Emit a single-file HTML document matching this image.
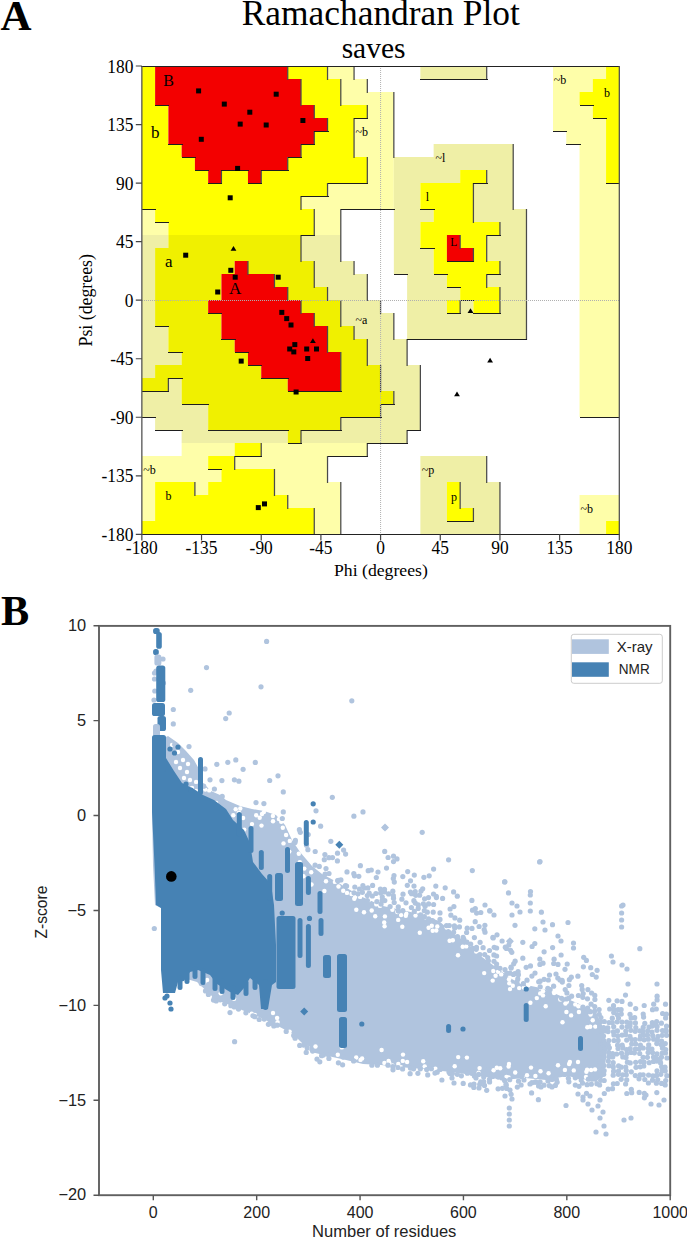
<!DOCTYPE html>
<html><head><meta charset="utf-8"><style>
html,body{margin:0;padding:0;background:#fff;}
svg{display:block;}
.serif{font-family:"Liberation Serif",serif;}
.sans{font-family:"Liberation Sans",sans-serif;}
</style></head><body>
<svg width="687" height="1240" viewBox="0 0 687 1240">
<rect width="687" height="1240" fill="#fff"/>
<rect x="141.85" y="66" width="13.26" height="13" fill="#ffff00"/>
<rect x="155.11" y="66" width="132.63" height="13" fill="#f30000"/>
<rect x="287.74" y="66" width="39.79" height="13" fill="#ffff00"/>
<rect x="327.53" y="66" width="26.53" height="13" fill="#fefea9"/>
<rect x="420.37" y="66" width="66.31" height="13" fill="#efefa6"/>
<rect x="553.00" y="66" width="53.05" height="13" fill="#fefea9"/>
<rect x="606.05" y="66" width="13.26" height="13" fill="#ffff00"/>
<rect x="141.85" y="79" width="13.26" height="13" fill="#ffff00"/>
<rect x="155.11" y="79" width="145.89" height="13" fill="#f30000"/>
<rect x="301.01" y="79" width="39.79" height="13" fill="#ffff00"/>
<rect x="340.79" y="79" width="26.53" height="13" fill="#fefea9"/>
<rect x="553.00" y="79" width="39.79" height="13" fill="#fefea9"/>
<rect x="592.79" y="79" width="26.53" height="13" fill="#ffff00"/>
<rect x="141.85" y="92" width="13.26" height="13" fill="#ffff00"/>
<rect x="155.11" y="92" width="145.89" height="13" fill="#f30000"/>
<rect x="301.01" y="92" width="39.79" height="13" fill="#ffff00"/>
<rect x="340.79" y="92" width="53.05" height="13" fill="#fefea9"/>
<rect x="553.00" y="92" width="26.53" height="13" fill="#fefea9"/>
<rect x="579.53" y="92" width="39.79" height="13" fill="#ffff00"/>
<rect x="141.85" y="105" width="26.53" height="13" fill="#ffff00"/>
<rect x="168.38" y="105" width="145.89" height="13" fill="#f30000"/>
<rect x="314.27" y="105" width="53.05" height="13" fill="#ffff00"/>
<rect x="367.32" y="105" width="26.53" height="13" fill="#fefea9"/>
<rect x="553.00" y="105" width="39.79" height="13" fill="#fefea9"/>
<rect x="592.79" y="105" width="26.53" height="13" fill="#ffff00"/>
<rect x="141.85" y="118" width="26.53" height="13" fill="#ffff00"/>
<rect x="168.38" y="118" width="159.16" height="13" fill="#f30000"/>
<rect x="327.53" y="118" width="26.53" height="13" fill="#ffff00"/>
<rect x="354.06" y="118" width="39.79" height="13" fill="#fefea9"/>
<rect x="553.00" y="118" width="53.05" height="13" fill="#fefea9"/>
<rect x="606.05" y="118" width="13.26" height="13" fill="#ffff00"/>
<rect x="141.85" y="131" width="26.53" height="13" fill="#ffff00"/>
<rect x="168.38" y="131" width="145.89" height="13" fill="#f30000"/>
<rect x="314.27" y="131" width="39.79" height="13" fill="#ffff00"/>
<rect x="354.06" y="131" width="39.79" height="13" fill="#fefea9"/>
<rect x="566.27" y="131" width="39.79" height="13" fill="#fefea9"/>
<rect x="606.05" y="131" width="13.26" height="13" fill="#ffff00"/>
<rect x="141.85" y="144" width="39.79" height="13" fill="#ffff00"/>
<rect x="181.64" y="144" width="119.37" height="13" fill="#f30000"/>
<rect x="301.01" y="144" width="53.05" height="13" fill="#ffff00"/>
<rect x="354.06" y="144" width="39.79" height="13" fill="#fefea9"/>
<rect x="433.64" y="144" width="79.58" height="13" fill="#efefa6"/>
<rect x="579.53" y="144" width="26.53" height="13" fill="#fefea9"/>
<rect x="606.05" y="144" width="13.26" height="13" fill="#ffff00"/>
<rect x="141.85" y="157" width="53.05" height="13" fill="#ffff00"/>
<rect x="194.90" y="157" width="92.84" height="13" fill="#f30000"/>
<rect x="287.74" y="157" width="79.58" height="13" fill="#ffff00"/>
<rect x="367.32" y="157" width="26.53" height="13" fill="#fefea9"/>
<rect x="393.85" y="157" width="119.37" height="13" fill="#efefa6"/>
<rect x="579.53" y="157" width="26.53" height="13" fill="#fefea9"/>
<rect x="606.05" y="157" width="13.26" height="13" fill="#ffff00"/>
<rect x="141.85" y="170" width="66.31" height="13" fill="#ffff00"/>
<rect x="208.16" y="170" width="13.26" height="13" fill="#f30000"/>
<rect x="221.43" y="170" width="26.53" height="13" fill="#ffff00"/>
<rect x="247.95" y="170" width="13.26" height="13" fill="#f30000"/>
<rect x="261.22" y="170" width="106.10" height="13" fill="#ffff00"/>
<rect x="367.32" y="170" width="26.53" height="13" fill="#fefea9"/>
<rect x="393.85" y="170" width="66.32" height="13" fill="#efefa6"/>
<rect x="460.16" y="170" width="26.53" height="13" fill="#ffff00"/>
<rect x="486.69" y="170" width="26.53" height="13" fill="#efefa6"/>
<rect x="579.53" y="170" width="26.53" height="13" fill="#fefea9"/>
<rect x="606.05" y="170" width="13.26" height="13" fill="#ffff00"/>
<rect x="141.85" y="183" width="185.68" height="13" fill="#ffff00"/>
<rect x="327.53" y="183" width="66.31" height="13" fill="#fefea9"/>
<rect x="393.85" y="183" width="26.53" height="13" fill="#efefa6"/>
<rect x="420.37" y="183" width="53.05" height="13" fill="#ffff00"/>
<rect x="473.42" y="183" width="39.79" height="13" fill="#efefa6"/>
<rect x="579.53" y="183" width="39.79" height="13" fill="#fefea9"/>
<rect x="141.85" y="196" width="159.16" height="13" fill="#ffff00"/>
<rect x="301.01" y="196" width="92.84" height="13" fill="#fefea9"/>
<rect x="393.85" y="196" width="26.53" height="13" fill="#efefa6"/>
<rect x="420.37" y="196" width="53.05" height="13" fill="#ffff00"/>
<rect x="473.42" y="196" width="39.79" height="13" fill="#efefa6"/>
<rect x="579.53" y="196" width="39.79" height="13" fill="#fefea9"/>
<rect x="141.85" y="209" width="13.26" height="13" fill="#fefea9"/>
<rect x="155.11" y="209" width="159.16" height="13" fill="#ffff00"/>
<rect x="314.27" y="209" width="26.53" height="13" fill="#fefea9"/>
<rect x="393.85" y="209" width="39.79" height="13" fill="#efefa6"/>
<rect x="433.64" y="209" width="39.79" height="13" fill="#ffff00"/>
<rect x="473.42" y="209" width="53.05" height="13" fill="#efefa6"/>
<rect x="579.53" y="209" width="39.79" height="13" fill="#fefea9"/>
<rect x="141.85" y="222" width="26.53" height="13" fill="#fefea9"/>
<rect x="168.38" y="222" width="145.89" height="13" fill="#ffff00"/>
<rect x="314.27" y="222" width="26.53" height="13" fill="#fefea9"/>
<rect x="393.85" y="222" width="26.53" height="13" fill="#efefa6"/>
<rect x="420.37" y="222" width="79.58" height="13" fill="#ffff00"/>
<rect x="499.95" y="222" width="26.53" height="13" fill="#efefa6"/>
<rect x="579.53" y="222" width="39.79" height="13" fill="#fefea9"/>
<rect x="141.85" y="235" width="26.53" height="13" fill="#efefa6"/>
<rect x="168.38" y="235" width="132.63" height="13" fill="#f0f000"/>
<rect x="301.01" y="235" width="39.79" height="13" fill="#efefa6"/>
<rect x="393.85" y="235" width="26.53" height="13" fill="#efefa6"/>
<rect x="420.37" y="235" width="26.53" height="13" fill="#ffff00"/>
<rect x="446.90" y="235" width="13.26" height="13" fill="#f30000"/>
<rect x="460.16" y="235" width="26.53" height="13" fill="#ffff00"/>
<rect x="486.69" y="235" width="39.79" height="13" fill="#efefa6"/>
<rect x="579.53" y="235" width="39.79" height="13" fill="#fefea9"/>
<rect x="141.85" y="248" width="13.26" height="13" fill="#efefa6"/>
<rect x="155.11" y="248" width="145.89" height="13" fill="#f0f000"/>
<rect x="301.01" y="248" width="39.79" height="13" fill="#efefa6"/>
<rect x="393.85" y="248" width="39.79" height="13" fill="#efefa6"/>
<rect x="433.64" y="248" width="13.26" height="13" fill="#ffff00"/>
<rect x="446.90" y="248" width="26.53" height="13" fill="#f30000"/>
<rect x="473.42" y="248" width="13.26" height="13" fill="#ffff00"/>
<rect x="486.69" y="248" width="39.79" height="13" fill="#efefa6"/>
<rect x="579.53" y="248" width="39.79" height="13" fill="#fefea9"/>
<rect x="141.85" y="261" width="13.26" height="13" fill="#efefa6"/>
<rect x="155.11" y="261" width="79.58" height="13" fill="#f0f000"/>
<rect x="234.69" y="261" width="13.26" height="13" fill="#f30000"/>
<rect x="247.95" y="261" width="66.31" height="13" fill="#f0f000"/>
<rect x="314.27" y="261" width="39.79" height="13" fill="#efefa6"/>
<rect x="393.85" y="261" width="39.79" height="13" fill="#efefa6"/>
<rect x="433.64" y="261" width="66.32" height="13" fill="#ffff00"/>
<rect x="499.95" y="261" width="26.53" height="13" fill="#efefa6"/>
<rect x="579.53" y="261" width="39.79" height="13" fill="#fefea9"/>
<rect x="141.85" y="274" width="13.26" height="13" fill="#efefa6"/>
<rect x="155.11" y="274" width="66.31" height="13" fill="#f0f000"/>
<rect x="221.43" y="274" width="53.05" height="13" fill="#f30000"/>
<rect x="274.48" y="274" width="39.79" height="13" fill="#f0f000"/>
<rect x="314.27" y="274" width="53.05" height="13" fill="#efefa6"/>
<rect x="407.11" y="274" width="39.79" height="13" fill="#efefa6"/>
<rect x="446.90" y="274" width="39.79" height="13" fill="#ffff00"/>
<rect x="486.69" y="274" width="39.79" height="13" fill="#efefa6"/>
<rect x="579.53" y="274" width="39.79" height="13" fill="#fefea9"/>
<rect x="141.85" y="287" width="13.26" height="13" fill="#efefa6"/>
<rect x="155.11" y="287" width="66.31" height="13" fill="#f0f000"/>
<rect x="221.43" y="287" width="66.31" height="13" fill="#f30000"/>
<rect x="287.74" y="287" width="39.79" height="13" fill="#f0f000"/>
<rect x="327.53" y="287" width="39.79" height="13" fill="#efefa6"/>
<rect x="407.11" y="287" width="53.05" height="13" fill="#efefa6"/>
<rect x="460.16" y="287" width="39.79" height="13" fill="#ffff00"/>
<rect x="499.95" y="287" width="26.53" height="13" fill="#efefa6"/>
<rect x="579.53" y="287" width="39.79" height="13" fill="#fefea9"/>
<rect x="141.85" y="300" width="13.26" height="13" fill="#efefa6"/>
<rect x="155.11" y="300" width="53.05" height="13" fill="#f0f000"/>
<rect x="208.16" y="300" width="92.84" height="13" fill="#f30000"/>
<rect x="301.01" y="300" width="39.79" height="13" fill="#f0f000"/>
<rect x="340.79" y="300" width="39.79" height="13" fill="#efefa6"/>
<rect x="407.11" y="300" width="39.79" height="13" fill="#efefa6"/>
<rect x="446.90" y="300" width="13.26" height="13" fill="#ffff00"/>
<rect x="460.16" y="300" width="13.26" height="13" fill="#efefa6"/>
<rect x="473.42" y="300" width="26.53" height="13" fill="#ffff00"/>
<rect x="499.95" y="300" width="26.53" height="13" fill="#efefa6"/>
<rect x="579.53" y="300" width="39.79" height="13" fill="#fefea9"/>
<rect x="141.85" y="313" width="13.26" height="13" fill="#efefa6"/>
<rect x="155.11" y="313" width="66.31" height="13" fill="#f0f000"/>
<rect x="221.43" y="313" width="92.84" height="13" fill="#f30000"/>
<rect x="314.27" y="313" width="26.53" height="13" fill="#f0f000"/>
<rect x="340.79" y="313" width="53.05" height="13" fill="#efefa6"/>
<rect x="407.11" y="313" width="119.37" height="13" fill="#efefa6"/>
<rect x="579.53" y="313" width="39.79" height="13" fill="#fefea9"/>
<rect x="141.85" y="326" width="26.53" height="13" fill="#efefa6"/>
<rect x="168.38" y="326" width="53.05" height="13" fill="#f0f000"/>
<rect x="221.43" y="326" width="106.10" height="13" fill="#f30000"/>
<rect x="327.53" y="326" width="26.53" height="13" fill="#f0f000"/>
<rect x="354.06" y="326" width="39.79" height="13" fill="#efefa6"/>
<rect x="407.11" y="326" width="119.37" height="13" fill="#efefa6"/>
<rect x="579.53" y="326" width="39.79" height="13" fill="#fefea9"/>
<rect x="141.85" y="339" width="26.53" height="13" fill="#efefa6"/>
<rect x="168.38" y="339" width="66.31" height="13" fill="#f0f000"/>
<rect x="234.69" y="339" width="92.84" height="13" fill="#f30000"/>
<rect x="327.53" y="339" width="39.79" height="13" fill="#f0f000"/>
<rect x="367.32" y="339" width="39.79" height="13" fill="#efefa6"/>
<rect x="579.53" y="339" width="39.79" height="13" fill="#fefea9"/>
<rect x="141.85" y="352" width="39.79" height="13" fill="#efefa6"/>
<rect x="181.64" y="352" width="66.31" height="13" fill="#f0f000"/>
<rect x="247.95" y="352" width="92.84" height="13" fill="#f30000"/>
<rect x="340.79" y="352" width="26.53" height="13" fill="#f0f000"/>
<rect x="367.32" y="352" width="39.79" height="13" fill="#efefa6"/>
<rect x="579.53" y="352" width="39.79" height="13" fill="#fefea9"/>
<rect x="141.85" y="365" width="13.26" height="13" fill="#efefa6"/>
<rect x="155.11" y="365" width="106.10" height="13" fill="#f0f000"/>
<rect x="261.22" y="365" width="79.58" height="13" fill="#f30000"/>
<rect x="340.79" y="365" width="39.79" height="13" fill="#f0f000"/>
<rect x="380.58" y="365" width="39.79" height="13" fill="#efefa6"/>
<rect x="579.53" y="365" width="39.79" height="13" fill="#fefea9"/>
<rect x="141.85" y="378" width="26.53" height="13" fill="#f0f000"/>
<rect x="168.38" y="378" width="13.26" height="13" fill="#efefa6"/>
<rect x="181.64" y="378" width="106.10" height="13" fill="#f0f000"/>
<rect x="287.74" y="378" width="53.05" height="13" fill="#f30000"/>
<rect x="340.79" y="378" width="39.79" height="13" fill="#f0f000"/>
<rect x="380.58" y="378" width="39.79" height="13" fill="#efefa6"/>
<rect x="579.53" y="378" width="39.79" height="13" fill="#fefea9"/>
<rect x="141.85" y="391" width="39.79" height="13" fill="#efefa6"/>
<rect x="181.64" y="391" width="212.21" height="13" fill="#f0f000"/>
<rect x="393.85" y="391" width="26.53" height="13" fill="#efefa6"/>
<rect x="579.53" y="391" width="39.79" height="13" fill="#fefea9"/>
<rect x="141.85" y="404" width="66.31" height="13" fill="#efefa6"/>
<rect x="208.16" y="404" width="172.42" height="13" fill="#f0f000"/>
<rect x="380.58" y="404" width="39.79" height="13" fill="#efefa6"/>
<rect x="579.53" y="404" width="39.79" height="13" fill="#fefea9"/>
<rect x="155.11" y="417" width="53.05" height="13" fill="#efefa6"/>
<rect x="208.16" y="417" width="132.63" height="13" fill="#f0f000"/>
<rect x="340.79" y="417" width="79.58" height="13" fill="#efefa6"/>
<rect x="181.64" y="430" width="106.10" height="13" fill="#efefa6"/>
<rect x="287.74" y="430" width="13.26" height="13" fill="#f0f000"/>
<rect x="301.01" y="430" width="106.10" height="13" fill="#efefa6"/>
<rect x="181.64" y="443" width="53.05" height="13" fill="#fefea9"/>
<rect x="234.69" y="443" width="26.53" height="13" fill="#ffff00"/>
<rect x="261.22" y="443" width="106.10" height="13" fill="#fefea9"/>
<rect x="141.85" y="456" width="66.31" height="13" fill="#fefea9"/>
<rect x="208.16" y="456" width="26.53" height="13" fill="#ffff00"/>
<rect x="234.69" y="456" width="92.84" height="13" fill="#fefea9"/>
<rect x="420.37" y="456" width="66.31" height="13" fill="#efefa6"/>
<rect x="141.85" y="469" width="79.58" height="13" fill="#fefea9"/>
<rect x="221.43" y="469" width="53.05" height="13" fill="#ffff00"/>
<rect x="274.48" y="469" width="53.05" height="13" fill="#fefea9"/>
<rect x="420.37" y="469" width="66.31" height="13" fill="#efefa6"/>
<rect x="141.85" y="482" width="13.26" height="13" fill="#fefea9"/>
<rect x="155.11" y="482" width="39.79" height="13" fill="#ffff00"/>
<rect x="194.90" y="482" width="13.26" height="13" fill="#fefea9"/>
<rect x="208.16" y="482" width="66.32" height="13" fill="#ffff00"/>
<rect x="274.48" y="482" width="66.31" height="13" fill="#fefea9"/>
<rect x="420.37" y="482" width="26.53" height="13" fill="#efefa6"/>
<rect x="446.90" y="482" width="13.26" height="13" fill="#ffff00"/>
<rect x="460.16" y="482" width="39.79" height="13" fill="#efefa6"/>
<rect x="141.85" y="495" width="13.26" height="13" fill="#fefea9"/>
<rect x="155.11" y="495" width="132.63" height="13" fill="#ffff00"/>
<rect x="287.74" y="495" width="53.05" height="13" fill="#fefea9"/>
<rect x="420.37" y="495" width="26.53" height="13" fill="#efefa6"/>
<rect x="446.90" y="495" width="13.26" height="13" fill="#ffff00"/>
<rect x="460.16" y="495" width="39.79" height="13" fill="#efefa6"/>
<rect x="579.53" y="495" width="39.79" height="13" fill="#fefea9"/>
<rect x="141.85" y="508" width="13.26" height="13" fill="#fefea9"/>
<rect x="155.11" y="508" width="159.16" height="13" fill="#ffff00"/>
<rect x="314.27" y="508" width="26.53" height="13" fill="#fefea9"/>
<rect x="420.37" y="508" width="26.53" height="13" fill="#efefa6"/>
<rect x="446.90" y="508" width="26.53" height="13" fill="#ffff00"/>
<rect x="473.42" y="508" width="26.53" height="13" fill="#efefa6"/>
<rect x="579.53" y="508" width="39.79" height="13" fill="#fefea9"/>
<rect x="141.85" y="521" width="172.42" height="13" fill="#ffff00"/>
<rect x="314.27" y="521" width="26.53" height="13" fill="#fefea9"/>
<rect x="420.37" y="521" width="79.58" height="13" fill="#efefa6"/>
<rect x="579.53" y="521" width="26.53" height="13" fill="#fefea9"/>
<rect x="606.05" y="521" width="13.26" height="13" fill="#ffff00"/>
<path d="M287.74 66.0V80.0M327.53 66.0V80.0M354.06 66.0V80.0M486.69 66.0V80.0M301.01 79.0V93.0M340.79 79.0V93.0M367.32 79.0V93.0M301.01 92.0V106.0M340.79 92.0V106.0M393.85 92.0V106.0M314.27 105.0V119.0M367.32 105.0V119.0M393.85 105.0V119.0M327.53 118.0V132.0M354.06 118.0V132.0M393.85 118.0V132.0M314.27 131.0V145.0M354.06 131.0V145.0M393.85 131.0V145.0M301.01 144.0V158.0M354.06 144.0V158.0M393.85 144.0V158.0M513.21 144.0V158.0M287.74 157.0V171.0M367.32 157.0V171.0M513.21 157.0V171.0M221.43 170.0V184.0M261.22 170.0V184.0M367.32 170.0V184.0M486.69 170.0V184.0M513.21 170.0V184.0M327.53 183.0V197.0M473.42 183.0V197.0M513.21 183.0V197.0M301.01 196.0V210.0M473.42 196.0V210.0M513.21 196.0V210.0M314.27 209.0V223.0M340.79 209.0V223.0M473.42 209.0V223.0M526.48 209.0V223.0M314.27 222.0V236.0M340.79 222.0V236.0M499.95 222.0V236.0M526.48 222.0V236.0M301.01 235.0V249.0M340.79 235.0V249.0M460.16 235.0V249.0M486.69 235.0V249.0M526.48 235.0V249.0M301.01 248.0V262.0M340.79 248.0V262.0M473.42 248.0V262.0M486.69 248.0V262.0M526.48 248.0V262.0M247.95 261.0V275.0M314.27 261.0V275.0M354.06 261.0V275.0M499.95 261.0V275.0M526.48 261.0V275.0M274.48 274.0V288.0M314.27 274.0V288.0M367.32 274.0V288.0M486.69 274.0V288.0M526.48 274.0V288.0M287.74 287.0V301.0M327.53 287.0V301.0M367.32 287.0V301.0M499.95 287.0V301.0M526.48 287.0V301.0M301.01 300.0V314.0M340.79 300.0V314.0M380.58 300.0V314.0M460.16 300.0V314.0M499.95 300.0V314.0M526.48 300.0V314.0M314.27 313.0V327.0M340.79 313.0V327.0M393.85 313.0V327.0M526.48 313.0V327.0M327.53 326.0V340.0M354.06 326.0V340.0M393.85 326.0V340.0M526.48 326.0V340.0M327.53 339.0V353.0M367.32 339.0V353.0M407.11 339.0V353.0M340.79 352.0V366.0M367.32 352.0V366.0M407.11 352.0V366.0M340.79 365.0V379.0M380.58 365.0V379.0M420.37 365.0V379.0M168.38 378.0V392.0M340.79 378.0V392.0M380.58 378.0V392.0M420.37 378.0V392.0M393.85 391.0V405.0M420.37 391.0V405.0M380.58 404.0V418.0M420.37 404.0V418.0M340.79 417.0V431.0M420.37 417.0V431.0M301.01 430.0V444.0M407.11 430.0V444.0M261.22 443.0V457.0M367.32 443.0V457.0M234.69 456.0V470.0M327.53 456.0V470.0M486.69 456.0V470.0M274.48 469.0V483.0M327.53 469.0V483.0M486.69 469.0V483.0M194.90 482.0V496.0M274.48 482.0V496.0M340.79 482.0V496.0M460.16 482.0V496.0M499.95 482.0V496.0M287.74 495.0V509.0M340.79 495.0V509.0M460.16 495.0V509.0M499.95 495.0V509.0M314.27 508.0V522.0M340.79 508.0V522.0M473.42 508.0V522.0M499.95 508.0V522.0M314.27 521.0V535.0M340.79 521.0V535.0M499.95 521.0V535.0" stroke="#4a4a4a" stroke-width="1.25" fill="none"/>
<path d="M419.5 79.5H434.5M433.5 79.5H447.5M446.5 79.5H460.5M459.5 79.5H473.5M472.5 79.5H487.5M154.5 105.5H168.5M579.5 105.5H593.5M353.5 118.5H367.5M592.5 118.5H606.5M313.5 131.5H328.5M552.5 131.5H566.5M167.5 144.5H182.5M300.5 144.5H314.5M565.5 144.5H580.5M181.5 157.5H195.5M287.5 157.5H301.5M194.5 170.5H208.5M220.5 170.5H235.5M234.5 170.5H248.5M260.5 170.5H274.5M273.5 170.5H288.5M207.5 183.5H221.5M247.5 183.5H261.5M327.5 183.5H341.5M340.5 183.5H354.5M353.5 183.5H367.5M472.5 183.5H487.5M605.5 183.5H619.5M300.5 196.5H314.5M313.5 196.5H328.5M141.5 209.5H155.5M340.5 209.5H354.5M353.5 209.5H367.5M366.5 209.5H381.5M380.5 209.5H394.5M419.5 209.5H434.5M154.5 222.5H168.5M300.5 235.5H314.5M486.5 235.5H500.5M419.5 248.5H434.5M446.5 261.5H460.5M459.5 261.5H473.5M393.5 274.5H407.5M433.5 274.5H447.5M486.5 274.5H500.5M446.5 287.5H460.5M459.5 300.5H473.5M207.5 313.5H221.5M446.5 313.5H460.5M472.5 313.5H487.5M486.5 313.5H500.5M154.5 326.5H168.5M220.5 339.5H235.5M406.5 339.5H420.5M419.5 339.5H434.5M433.5 339.5H447.5M446.5 339.5H460.5M459.5 339.5H473.5M472.5 339.5H487.5M486.5 339.5H500.5M499.5 339.5H513.5M512.5 339.5H526.5M167.5 352.5H182.5M234.5 352.5H248.5M247.5 365.5H261.5M167.5 378.5H182.5M260.5 378.5H274.5M273.5 378.5H288.5M141.5 391.5H155.5M154.5 391.5H168.5M287.5 391.5H301.5M300.5 391.5H314.5M313.5 391.5H328.5M327.5 391.5H341.5M181.5 404.5H195.5M194.5 404.5H208.5M380.5 404.5H394.5M141.5 417.5H155.5M340.5 417.5H354.5M353.5 417.5H367.5M366.5 417.5H381.5M579.5 417.5H593.5M592.5 417.5H606.5M605.5 417.5H619.5M154.5 430.5H168.5M167.5 430.5H182.5M207.5 430.5H221.5M220.5 430.5H235.5M234.5 430.5H248.5M247.5 430.5H261.5M260.5 430.5H274.5M273.5 430.5H288.5M300.5 430.5H314.5M313.5 430.5H328.5M327.5 430.5H341.5M406.5 430.5H420.5M287.5 443.5H301.5M366.5 443.5H381.5M380.5 443.5H394.5M393.5 443.5H407.5M234.5 456.5H248.5M247.5 456.5H261.5M327.5 456.5H341.5M340.5 456.5H354.5M353.5 456.5H367.5M207.5 469.5H221.5M446.5 521.5H460.5M459.5 521.5H473.5" stroke="#1e1e1e" stroke-width="1" fill="none" shape-rendering="crispEdges"/>
<line x1="380.58" y1="66.0" x2="380.58" y2="534.36" stroke="#b0b0b0" stroke-width="1" stroke-dasharray="1,1"/>
<line x1="141.85" y1="300.5" x2="619.32" y2="300.5" stroke="#b0b0b0" stroke-width="1" stroke-dasharray="1,1" shape-rendering="crispEdges"/>
<path d="M141.35 66.5H619.82M141.35 534.5H619.82" stroke="#222" stroke-width="1" fill="none" shape-rendering="crispEdges"/>
<path d="M141.85 66V535M619.32 66V535" stroke="#555" stroke-width="1.3" fill="none"/>
<path d="M135.8 534.36H141.85M141.85 534.36V540.4M135.8 475.81H141.85M201.53 534.36V540.4M135.8 417.27H141.85M261.22 534.36V540.4M135.8 358.73H141.85M320.90 534.36V540.4M135.8 300.18H141.85M380.58 534.36V540.4M135.8 241.63H141.85M440.27 534.36V540.4M135.8 183.09H141.85M499.95 534.36V540.4M135.8 124.55H141.85M559.63 534.36V540.4M135.8 66.00H141.85M619.32 534.36V540.4" stroke="#444" stroke-width="1.2" fill="none"/>
<text transform="translate(133.4,534.5) scale(1,1.1)" x="0" y="5.9" text-anchor="end" class="serif" font-size="17.4">-180</text>
<text transform="translate(141.8,548.0) scale(1,1.1)" x="0" y="5.9" text-anchor="middle" class="serif" font-size="17.4">-180</text>
<text transform="translate(133.4,475.9) scale(1,1.1)" x="0" y="5.9" text-anchor="end" class="serif" font-size="17.4">-135</text>
<text transform="translate(201.5,548.0) scale(1,1.1)" x="0" y="5.9" text-anchor="middle" class="serif" font-size="17.4">-135</text>
<text transform="translate(133.4,417.4) scale(1,1.1)" x="0" y="5.9" text-anchor="end" class="serif" font-size="17.4">-90</text>
<text transform="translate(261.2,548.0) scale(1,1.1)" x="0" y="5.9" text-anchor="middle" class="serif" font-size="17.4">-90</text>
<text transform="translate(133.4,358.8) scale(1,1.1)" x="0" y="5.9" text-anchor="end" class="serif" font-size="17.4">-45</text>
<text transform="translate(320.9,548.0) scale(1,1.1)" x="0" y="5.9" text-anchor="middle" class="serif" font-size="17.4">-45</text>
<text transform="translate(133.4,300.3) scale(1,1.1)" x="0" y="5.9" text-anchor="end" class="serif" font-size="17.4">0</text>
<text transform="translate(380.6,548.0) scale(1,1.1)" x="0" y="5.9" text-anchor="middle" class="serif" font-size="17.4">0</text>
<text transform="translate(133.4,241.7) scale(1,1.1)" x="0" y="5.9" text-anchor="end" class="serif" font-size="17.4">45</text>
<text transform="translate(440.3,548.0) scale(1,1.1)" x="0" y="5.9" text-anchor="middle" class="serif" font-size="17.4">45</text>
<text transform="translate(133.4,183.2) scale(1,1.1)" x="0" y="5.9" text-anchor="end" class="serif" font-size="17.4">90</text>
<text transform="translate(500.0,548.0) scale(1,1.1)" x="0" y="5.9" text-anchor="middle" class="serif" font-size="17.4">90</text>
<text transform="translate(133.4,124.6) scale(1,1.1)" x="0" y="5.9" text-anchor="end" class="serif" font-size="17.4">135</text>
<text transform="translate(559.6,548.0) scale(1,1.1)" x="0" y="5.9" text-anchor="middle" class="serif" font-size="17.4">135</text>
<text transform="translate(133.4,66.1) scale(1,1.1)" x="0" y="5.9" text-anchor="end" class="serif" font-size="17.4">180</text>
<text transform="translate(619.3,548.0) scale(1,1.1)" x="0" y="5.9" text-anchor="middle" class="serif" font-size="17.4">180</text>
<text x="380.9" y="576" text-anchor="middle" class="serif" font-size="17.7">Phi (degrees)</text>
<text transform="translate(91.5,300.3) rotate(-90)" text-anchor="middle" class="serif" font-size="17.8">Psi (degrees)</text>
<text x="163.3" y="85.5" class="serif" font-size="16">B</text>
<text x="151.0" y="137.6" class="serif" font-size="17">b</text>
<text x="355.5" y="135.8" class="serif" font-size="12">~b</text>
<text x="435.6" y="161.5" class="serif" font-size="12">~l</text>
<text x="425.8" y="200.6" class="serif" font-size="12">l</text>
<text x="450.3" y="245.8" class="serif" font-size="11.5">L</text>
<text x="165.0" y="267.2" class="serif" font-size="17">a</text>
<text x="229.0" y="293.9" class="serif" font-size="17">A</text>
<text x="355.4" y="324.1" class="serif" font-size="12">~a</text>
<text x="421.8" y="474" class="serif" font-size="12">~p</text>
<text x="451" y="500.6" class="serif" font-size="12">p</text>
<text x="553.8" y="83.9" class="serif" font-size="12">~b</text>
<text x="603.9" y="96.6" class="serif" font-size="12">b</text>
<text x="143.3" y="473.8" class="serif" font-size="12">~b</text>
<text x="165.6" y="499.5" class="serif" font-size="12">b</text>
<text x="580.6" y="513.2" class="serif" font-size="12">~b</text>
<rect x="196.1" y="88.4" width="5" height="5" fill="#000"/>
<rect x="221.8" y="101.6" width="5" height="5" fill="#000"/>
<rect x="247.3" y="109.7" width="5" height="5" fill="#000"/>
<rect x="273.7" y="91.7" width="5" height="5" fill="#000"/>
<rect x="237.7" y="121.6" width="5" height="5" fill="#000"/>
<rect x="263.7" y="122.5" width="5" height="5" fill="#000"/>
<rect x="300.4" y="118.0" width="5" height="5" fill="#000"/>
<rect x="198.8" y="136.8" width="5" height="5" fill="#000"/>
<rect x="235.1" y="165.9" width="5" height="5" fill="#000"/>
<rect x="227.7" y="195.3" width="5" height="5" fill="#000"/>
<rect x="183.2" y="252.7" width="5" height="5" fill="#000"/>
<rect x="228.3" y="267.8" width="5" height="5" fill="#000"/>
<rect x="232.7" y="274.7" width="5" height="5" fill="#000"/>
<rect x="215.2" y="289.5" width="5" height="5" fill="#000"/>
<rect x="275.7" y="274.7" width="5" height="5" fill="#000"/>
<rect x="279.3" y="309.9" width="5" height="5" fill="#000"/>
<rect x="284.2" y="316.1" width="5" height="5" fill="#000"/>
<rect x="288.5" y="322.5" width="5" height="5" fill="#000"/>
<rect x="292.3" y="342.1" width="5" height="5" fill="#000"/>
<rect x="287.2" y="346.5" width="5" height="5" fill="#000"/>
<rect x="291.3" y="349.4" width="5" height="5" fill="#000"/>
<rect x="304.2" y="346.5" width="5" height="5" fill="#000"/>
<rect x="314.0" y="346.5" width="5" height="5" fill="#000"/>
<rect x="305.2" y="356.0" width="5" height="5" fill="#000"/>
<rect x="238.7" y="358.6" width="5" height="5" fill="#000"/>
<rect x="293.6" y="389.5" width="5" height="5" fill="#000"/>
<rect x="255.8" y="505.1" width="5" height="5" fill="#000"/>
<rect x="262.0" y="501.4" width="5" height="5" fill="#000"/>
<path d="M233.5 246.0L236.4 250.8H230.6Z" fill="#000"/>
<path d="M312.9 338.2L315.8 343.0H310.0Z" fill="#000"/>
<path d="M470.5 308.2L473.4 313.0H467.6Z" fill="#000"/>
<path d="M490.1 357.7L493.0 362.5H487.2Z" fill="#000"/>
<path d="M457.0 391.4L459.9 396.2H454.1Z" fill="#000"/>
<text x="380.8" y="25.3" text-anchor="middle" class="serif" font-size="35.4">Ramachandran Plot</text>
<text x="373.6" y="57.5" text-anchor="middle" class="serif" font-size="29.5">saves</text>
<text x="0.6" y="29.8" class="serif" font-size="43" font-weight="bold">A</text>
<text x="1.0" y="625.3" class="serif" font-size="43" font-weight="bold" textLength="28.2" lengthAdjust="spacingAndGlyphs">B</text>
<path d="M160.0 740.0L168.0 736.0L178.0 743.0L186.0 751.0L194.0 760.0L200.0 771.0L203.0 783.0L211.0 791.0L220.0 795.0L226.0 800.0L240.0 806.0L252.0 809.0L264.0 811.0L276.0 815.0L285.0 825.0L292.0 840.0L300.0 852.0L312.0 866.0L322.0 874.0L337.0 882.0L360.0 896.0L383.0 906.0L406.0 911.0L420.0 914.0L439.0 921.0L453.0 933.0L468.0 944.0L482.0 957.0L497.0 968.0L510.0 978.0L521.0 984.0L541.0 988.0L556.0 994.0L570.0 1000.0L584.0 1006.0L596.0 1012.0L603.0 1028.0L607.0 1050.0L604.0 1074.0L596.0 1082.0L588.0 1080.0L567.0 1076.0L546.0 1080.0L525.0 1078.0L504.0 1080.0L480.0 1076.0L451.0 1072.0L424.0 1069.0L398.0 1067.0L381.0 1065.0L363.0 1064.0L346.0 1060.0L328.0 1056.0L311.0 1052.0L293.0 1034.0L276.0 1025.0L259.0 1017.0L237.0 1008.0L215.0 999.0L197.0 982.0L180.0 977.0L163.0 975.0L161.0 908.0L155.0 905.0L153.0 865.0L152.0 812.0L152.0 760.0Z" fill="#b0c4de"/>
<circle cx="196.1" cy="781.9" r="2.2" fill="#fff"/>
<circle cx="205.3" cy="789.6" r="2.2" fill="#fff"/>
<circle cx="204.4" cy="799.0" r="2.2" fill="#fff"/>
<circle cx="209.2" cy="790.4" r="2.2" fill="#fff"/>
<circle cx="216.1" cy="803.0" r="2.2" fill="#fff"/>
<circle cx="225.5" cy="816.3" r="2.2" fill="#fff"/>
<circle cx="235.7" cy="809.2" r="2.2" fill="#fff"/>
<circle cx="233.3" cy="815.2" r="2.2" fill="#fff"/>
<circle cx="240.3" cy="808.5" r="2.2" fill="#fff"/>
<circle cx="238.9" cy="812.6" r="2.2" fill="#fff"/>
<circle cx="243.1" cy="818.0" r="2.2" fill="#fff"/>
<circle cx="244.2" cy="829.6" r="2.2" fill="#fff"/>
<circle cx="252.0" cy="824.1" r="2.2" fill="#fff"/>
<circle cx="256.2" cy="815.2" r="2.2" fill="#fff"/>
<circle cx="262.0" cy="814.0" r="2.2" fill="#fff"/>
<circle cx="259.7" cy="817.8" r="2.2" fill="#fff"/>
<circle cx="261.5" cy="825.6" r="2.2" fill="#fff"/>
<circle cx="263.9" cy="812.1" r="2.2" fill="#fff"/>
<circle cx="272.9" cy="816.0" r="2.2" fill="#fff"/>
<circle cx="273.0" cy="821.2" r="2.2" fill="#fff"/>
<circle cx="278.9" cy="819.1" r="2.2" fill="#fff"/>
<circle cx="281.2" cy="821.8" r="2.2" fill="#fff"/>
<circle cx="282.8" cy="827.7" r="2.2" fill="#fff"/>
<circle cx="283.5" cy="843.4" r="2.2" fill="#fff"/>
<circle cx="286.1" cy="835.0" r="2.2" fill="#fff"/>
<circle cx="289.8" cy="840.9" r="2.2" fill="#fff"/>
<circle cx="289.3" cy="851.6" r="2.2" fill="#fff"/>
<circle cx="298.8" cy="853.7" r="2.2" fill="#fff"/>
<circle cx="299.8" cy="862.1" r="2.2" fill="#fff"/>
<circle cx="304.3" cy="868.6" r="2.2" fill="#fff"/>
<circle cx="303.5" cy="876.3" r="2.2" fill="#fff"/>
<circle cx="311.2" cy="872.3" r="2.2" fill="#fff"/>
<circle cx="311.5" cy="884.5" r="2.2" fill="#fff"/>
<circle cx="326.0" cy="881.3" r="2.2" fill="#fff"/>
<circle cx="324.4" cy="891.0" r="2.2" fill="#fff"/>
<circle cx="334.9" cy="881.9" r="2.2" fill="#fff"/>
<circle cx="338.5" cy="886.5" r="2.2" fill="#fff"/>
<circle cx="343.2" cy="890.8" r="2.2" fill="#fff"/>
<circle cx="347.0" cy="892.9" r="2.2" fill="#fff"/>
<circle cx="351.5" cy="894.0" r="2.2" fill="#fff"/>
<circle cx="355.2" cy="896.8" r="2.2" fill="#fff"/>
<circle cx="354.3" cy="898.7" r="2.2" fill="#fff"/>
<circle cx="356.3" cy="909.8" r="2.2" fill="#fff"/>
<circle cx="360.1" cy="896.9" r="2.2" fill="#fff"/>
<circle cx="364.0" cy="912.2" r="2.2" fill="#fff"/>
<circle cx="368.8" cy="900.1" r="2.2" fill="#fff"/>
<circle cx="371.7" cy="910.5" r="2.2" fill="#fff"/>
<circle cx="376.3" cy="904.4" r="2.2" fill="#fff"/>
<circle cx="375.2" cy="916.2" r="2.2" fill="#fff"/>
<circle cx="380.0" cy="905.9" r="2.2" fill="#fff"/>
<circle cx="384.9" cy="916.4" r="2.2" fill="#fff"/>
<circle cx="384.2" cy="922.4" r="2.2" fill="#fff"/>
<circle cx="384.6" cy="926.2" r="2.2" fill="#fff"/>
<circle cx="392.4" cy="909.7" r="2.2" fill="#fff"/>
<circle cx="397.3" cy="912.0" r="2.2" fill="#fff"/>
<circle cx="398.2" cy="919.9" r="2.2" fill="#fff"/>
<circle cx="402.4" cy="910.7" r="2.2" fill="#fff"/>
<circle cx="401.1" cy="915.1" r="2.2" fill="#fff"/>
<circle cx="402.3" cy="926.8" r="2.2" fill="#fff"/>
<circle cx="406.3" cy="913.8" r="2.2" fill="#fff"/>
<circle cx="405.8" cy="915.7" r="2.2" fill="#fff"/>
<circle cx="415.5" cy="915.6" r="2.2" fill="#fff"/>
<circle cx="419.8" cy="932.8" r="2.2" fill="#fff"/>
<circle cx="425.4" cy="917.2" r="2.2" fill="#fff"/>
<circle cx="428.6" cy="927.8" r="2.2" fill="#fff"/>
<circle cx="431.8" cy="925.7" r="2.2" fill="#fff"/>
<circle cx="432.7" cy="930.8" r="2.2" fill="#fff"/>
<circle cx="437.3" cy="926.4" r="2.2" fill="#fff"/>
<circle cx="436.3" cy="930.5" r="2.2" fill="#fff"/>
<circle cx="446.6" cy="927.5" r="2.2" fill="#fff"/>
<circle cx="449.6" cy="940.8" r="2.2" fill="#fff"/>
<circle cx="452.8" cy="940.3" r="2.2" fill="#fff"/>
<circle cx="458.0" cy="955.2" r="2.2" fill="#fff"/>
<circle cx="462.7" cy="946.7" r="2.2" fill="#fff"/>
<circle cx="466.2" cy="946.4" r="2.2" fill="#fff"/>
<circle cx="476.2" cy="951.6" r="2.2" fill="#fff"/>
<circle cx="484.2" cy="973.1" r="2.2" fill="#fff"/>
<circle cx="493.3" cy="971.0" r="2.2" fill="#fff"/>
<circle cx="492.7" cy="980.6" r="2.2" fill="#fff"/>
<circle cx="498.1" cy="971.8" r="2.2" fill="#fff"/>
<circle cx="495.6" cy="975.8" r="2.2" fill="#fff"/>
<circle cx="501.2" cy="974.4" r="2.2" fill="#fff"/>
<circle cx="509.0" cy="979.3" r="2.2" fill="#fff"/>
<circle cx="509.3" cy="983.2" r="2.2" fill="#fff"/>
<circle cx="510.0" cy="989.1" r="2.2" fill="#fff"/>
<circle cx="512.8" cy="985.7" r="2.2" fill="#fff"/>
<circle cx="519.2" cy="988.1" r="2.2" fill="#fff"/>
<circle cx="523.8" cy="987.6" r="2.2" fill="#fff"/>
<circle cx="528.4" cy="985.3" r="2.2" fill="#fff"/>
<circle cx="530.4" cy="1002.8" r="2.2" fill="#fff"/>
<circle cx="536.8" cy="998.1" r="2.2" fill="#fff"/>
<circle cx="540.8" cy="988.0" r="2.2" fill="#fff"/>
<circle cx="540.2" cy="993.4" r="2.2" fill="#fff"/>
<circle cx="543.0" cy="991.2" r="2.2" fill="#fff"/>
<circle cx="543.0" cy="995.4" r="2.2" fill="#fff"/>
<circle cx="545.7" cy="1006.2" r="2.2" fill="#fff"/>
<circle cx="554.1" cy="993.0" r="2.2" fill="#fff"/>
<circle cx="560.3" cy="999.5" r="2.2" fill="#fff"/>
<circle cx="562.5" cy="1022.3" r="2.2" fill="#fff"/>
<circle cx="566.9" cy="1001.7" r="2.2" fill="#fff"/>
<circle cx="565.4" cy="1003.6" r="2.2" fill="#fff"/>
<circle cx="566.4" cy="1012.0" r="2.2" fill="#fff"/>
<circle cx="571.1" cy="1015.4" r="2.2" fill="#fff"/>
<circle cx="575.3" cy="1004.4" r="2.2" fill="#fff"/>
<circle cx="578.4" cy="1006.3" r="2.2" fill="#fff"/>
<circle cx="578.9" cy="1012.0" r="2.2" fill="#fff"/>
<circle cx="581.6" cy="1006.2" r="2.2" fill="#fff"/>
<circle cx="587.3" cy="1027.2" r="2.2" fill="#fff"/>
<circle cx="590.6" cy="1014.5" r="2.2" fill="#fff"/>
<circle cx="592.7" cy="1020.3" r="2.2" fill="#fff"/>
<circle cx="590.2" cy="1026.7" r="2.2" fill="#fff"/>
<circle cx="595.3" cy="1026.6" r="2.2" fill="#fff"/>
<circle cx="204.7" cy="981.5" r="2.2" fill="#fff"/>
<circle cx="207.1" cy="980.0" r="2.2" fill="#fff"/>
<circle cx="220.7" cy="993.3" r="2.2" fill="#fff"/>
<circle cx="234.1" cy="998.8" r="2.2" fill="#fff"/>
<circle cx="251.7" cy="1013.8" r="2.2" fill="#fff"/>
<circle cx="254.9" cy="1015.0" r="2.2" fill="#fff"/>
<circle cx="273.0" cy="1013.0" r="2.2" fill="#fff"/>
<circle cx="277.6" cy="1022.1" r="2.2" fill="#fff"/>
<circle cx="277.1" cy="1017.9" r="2.2" fill="#fff"/>
<circle cx="289.6" cy="1031.6" r="2.2" fill="#fff"/>
<circle cx="307.8" cy="1047.9" r="2.2" fill="#fff"/>
<circle cx="315.5" cy="1046.5" r="2.2" fill="#fff"/>
<circle cx="337.8" cy="1054.7" r="2.2" fill="#fff"/>
<circle cx="341.8" cy="1047.4" r="2.2" fill="#fff"/>
<circle cx="356.2" cy="1057.5" r="2.2" fill="#fff"/>
<circle cx="360.5" cy="1059.9" r="2.2" fill="#fff"/>
<circle cx="362.1" cy="1058.4" r="2.2" fill="#fff"/>
<circle cx="381.6" cy="1050.0" r="2.2" fill="#fff"/>
<circle cx="384.4" cy="1062.9" r="2.2" fill="#fff"/>
<circle cx="389.3" cy="1062.9" r="2.2" fill="#fff"/>
<circle cx="388.6" cy="1061.0" r="2.2" fill="#fff"/>
<circle cx="392.4" cy="1065.5" r="2.2" fill="#fff"/>
<circle cx="398.3" cy="1064.0" r="2.2" fill="#fff"/>
<circle cx="400.9" cy="1067.1" r="2.2" fill="#fff"/>
<circle cx="402.8" cy="1060.9" r="2.2" fill="#fff"/>
<circle cx="403.0" cy="1054.6" r="2.2" fill="#fff"/>
<circle cx="407.1" cy="1062.0" r="2.2" fill="#fff"/>
<circle cx="424.7" cy="1066.4" r="2.2" fill="#fff"/>
<circle cx="423.2" cy="1061.3" r="2.2" fill="#fff"/>
<circle cx="433.5" cy="1069.3" r="2.2" fill="#fff"/>
<circle cx="435.4" cy="1068.8" r="2.2" fill="#fff"/>
<circle cx="454.7" cy="1066.3" r="2.2" fill="#fff"/>
<circle cx="458.2" cy="1057.1" r="2.2" fill="#fff"/>
<circle cx="466.9" cy="1057.6" r="2.2" fill="#fff"/>
<circle cx="478.6" cy="1072.7" r="2.2" fill="#fff"/>
<circle cx="479.6" cy="1068.1" r="2.2" fill="#fff"/>
<circle cx="493.6" cy="1070.3" r="2.2" fill="#fff"/>
<circle cx="496.8" cy="1067.7" r="2.2" fill="#fff"/>
<circle cx="500.2" cy="1068.3" r="2.2" fill="#fff"/>
<circle cx="506.4" cy="1076.9" r="2.2" fill="#fff"/>
<circle cx="508.6" cy="1077.4" r="2.2" fill="#fff"/>
<circle cx="508.6" cy="1066.5" r="2.2" fill="#fff"/>
<circle cx="509.0" cy="1063.9" r="2.2" fill="#fff"/>
<circle cx="515.2" cy="1072.5" r="2.2" fill="#fff"/>
<circle cx="523.0" cy="1078.2" r="2.2" fill="#fff"/>
<circle cx="527.0" cy="1075.3" r="2.2" fill="#fff"/>
<circle cx="531.0" cy="1067.6" r="2.2" fill="#fff"/>
<circle cx="535.4" cy="1076.0" r="2.2" fill="#fff"/>
<circle cx="540.5" cy="1071.2" r="2.2" fill="#fff"/>
<circle cx="548.6" cy="1073.3" r="2.2" fill="#fff"/>
<circle cx="558.0" cy="1065.2" r="2.2" fill="#fff"/>
<circle cx="564.9" cy="1070.0" r="2.2" fill="#fff"/>
<circle cx="569.1" cy="1064.0" r="2.2" fill="#fff"/>
<circle cx="569.9" cy="1062.0" r="2.2" fill="#fff"/>
<circle cx="573.8" cy="1070.4" r="2.2" fill="#fff"/>
<circle cx="578.0" cy="1062.0" r="2.2" fill="#fff"/>
<circle cx="586.0" cy="1077.0" r="2.2" fill="#fff"/>
<circle cx="586.4" cy="1071.8" r="2.2" fill="#fff"/>
<circle cx="587.1" cy="1069.8" r="2.2" fill="#fff"/>
<circle cx="591.1" cy="1070.0" r="2.2" fill="#fff"/>
<circle cx="595.0" cy="1069.4" r="2.2" fill="#fff"/>
<circle cx="178.0" cy="752.0" r="2.2" fill="#fff"/>
<circle cx="183.0" cy="760.0" r="2.2" fill="#fff"/>
<circle cx="180.0" cy="768.0" r="2.2" fill="#fff"/>
<circle cx="187.0" cy="772.0" r="2.2" fill="#fff"/>
<circle cx="176.0" cy="762.0" r="2.2" fill="#fff"/>
<circle cx="190.0" cy="780.0" r="2.2" fill="#fff"/>
<circle cx="184.0" cy="778.0" r="2.2" fill="#fff"/>
<circle cx="172.0" cy="745.0" r="2.2" fill="#fff"/>
<circle cx="192.0" cy="788.0" r="2.2" fill="#fff"/>
<circle cx="196.0" cy="791.0" r="2.2" fill="#fff"/>
<circle cx="188.0" cy="764.0" r="2.2" fill="#fff"/>
<circle cx="200.2" cy="767.8" r="2.6" fill="#b0c4de"/>
<circle cx="203.7" cy="786.2" r="2.6" fill="#b0c4de"/>
<circle cx="205.0" cy="768.9" r="2.6" fill="#b0c4de"/>
<circle cx="214.4" cy="789.0" r="2.6" fill="#b0c4de"/>
<circle cx="216.8" cy="764.3" r="2.6" fill="#b0c4de"/>
<circle cx="222.2" cy="796.4" r="2.6" fill="#b0c4de"/>
<circle cx="221.9" cy="780.6" r="2.6" fill="#b0c4de"/>
<circle cx="235.8" cy="759.9" r="2.6" fill="#b0c4de"/>
<circle cx="238.9" cy="781.2" r="2.6" fill="#b0c4de"/>
<circle cx="256.0" cy="802.6" r="2.6" fill="#b0c4de"/>
<circle cx="255.3" cy="762.4" r="2.6" fill="#b0c4de"/>
<circle cx="263.9" cy="803.6" r="2.6" fill="#b0c4de"/>
<circle cx="269.7" cy="780.5" r="2.6" fill="#b0c4de"/>
<circle cx="278.0" cy="775.8" r="2.6" fill="#b0c4de"/>
<circle cx="282.3" cy="818.5" r="2.6" fill="#b0c4de"/>
<circle cx="283.3" cy="811.9" r="2.6" fill="#b0c4de"/>
<circle cx="283.3" cy="791.9" r="2.6" fill="#b0c4de"/>
<circle cx="295.0" cy="842.6" r="2.6" fill="#b0c4de"/>
<circle cx="295.4" cy="840.4" r="2.6" fill="#b0c4de"/>
<circle cx="300.3" cy="832.3" r="2.6" fill="#b0c4de"/>
<circle cx="299.4" cy="829.7" r="2.6" fill="#b0c4de"/>
<circle cx="307.9" cy="849.7" r="2.6" fill="#b0c4de"/>
<circle cx="306.5" cy="845.2" r="2.6" fill="#b0c4de"/>
<circle cx="308.2" cy="834.5" r="2.6" fill="#b0c4de"/>
<circle cx="315.1" cy="865.2" r="2.6" fill="#b0c4de"/>
<circle cx="315.2" cy="851.5" r="2.6" fill="#b0c4de"/>
<circle cx="319.3" cy="866.4" r="2.6" fill="#b0c4de"/>
<circle cx="320.6" cy="826.2" r="2.6" fill="#b0c4de"/>
<circle cx="325.1" cy="874.2" r="2.6" fill="#b0c4de"/>
<circle cx="326.0" cy="868.6" r="2.6" fill="#b0c4de"/>
<circle cx="324.3" cy="859.7" r="2.6" fill="#b0c4de"/>
<circle cx="324.9" cy="854.5" r="2.6" fill="#b0c4de"/>
<circle cx="329.0" cy="873.5" r="2.6" fill="#b0c4de"/>
<circle cx="328.9" cy="857.7" r="2.6" fill="#b0c4de"/>
<circle cx="330.8" cy="841.3" r="2.6" fill="#b0c4de"/>
<circle cx="332.5" cy="857.6" r="2.6" fill="#b0c4de"/>
<circle cx="337.6" cy="880.6" r="2.6" fill="#b0c4de"/>
<circle cx="338.5" cy="880.3" r="2.6" fill="#b0c4de"/>
<circle cx="337.4" cy="860.9" r="2.6" fill="#b0c4de"/>
<circle cx="337.5" cy="853.2" r="2.6" fill="#b0c4de"/>
<circle cx="340.9" cy="879.9" r="2.6" fill="#b0c4de"/>
<circle cx="343.6" cy="850.1" r="2.6" fill="#b0c4de"/>
<circle cx="346.6" cy="886.1" r="2.6" fill="#b0c4de"/>
<circle cx="345.5" cy="885.5" r="2.6" fill="#b0c4de"/>
<circle cx="347.0" cy="871.9" r="2.6" fill="#b0c4de"/>
<circle cx="345.6" cy="854.1" r="2.6" fill="#b0c4de"/>
<circle cx="354.0" cy="892.8" r="2.6" fill="#b0c4de"/>
<circle cx="354.8" cy="887.0" r="2.6" fill="#b0c4de"/>
<circle cx="354.5" cy="875.8" r="2.6" fill="#b0c4de"/>
<circle cx="353.8" cy="873.7" r="2.6" fill="#b0c4de"/>
<circle cx="358.0" cy="893.8" r="2.6" fill="#b0c4de"/>
<circle cx="359.4" cy="889.0" r="2.6" fill="#b0c4de"/>
<circle cx="358.8" cy="876.3" r="2.6" fill="#b0c4de"/>
<circle cx="360.4" cy="865.7" r="2.6" fill="#b0c4de"/>
<circle cx="362.4" cy="892.3" r="2.6" fill="#b0c4de"/>
<circle cx="364.3" cy="888.0" r="2.6" fill="#b0c4de"/>
<circle cx="362.9" cy="885.7" r="2.6" fill="#b0c4de"/>
<circle cx="367.4" cy="900.5" r="2.6" fill="#b0c4de"/>
<circle cx="367.3" cy="895.5" r="2.6" fill="#b0c4de"/>
<circle cx="369.2" cy="893.0" r="2.6" fill="#b0c4de"/>
<circle cx="367.9" cy="887.9" r="2.6" fill="#b0c4de"/>
<circle cx="368.2" cy="870.7" r="2.6" fill="#b0c4de"/>
<circle cx="372.3" cy="896.0" r="2.6" fill="#b0c4de"/>
<circle cx="372.6" cy="885.4" r="2.6" fill="#b0c4de"/>
<circle cx="371.3" cy="870.0" r="2.6" fill="#b0c4de"/>
<circle cx="376.9" cy="901.6" r="2.6" fill="#b0c4de"/>
<circle cx="375.9" cy="893.5" r="2.6" fill="#b0c4de"/>
<circle cx="376.3" cy="877.5" r="2.6" fill="#b0c4de"/>
<circle cx="378.0" cy="872.0" r="2.6" fill="#b0c4de"/>
<circle cx="381.1" cy="904.1" r="2.6" fill="#b0c4de"/>
<circle cx="382.2" cy="900.3" r="2.6" fill="#b0c4de"/>
<circle cx="382.3" cy="897.1" r="2.6" fill="#b0c4de"/>
<circle cx="380.6" cy="893.1" r="2.6" fill="#b0c4de"/>
<circle cx="380.4" cy="889.1" r="2.6" fill="#b0c4de"/>
<circle cx="384.8" cy="900.6" r="2.6" fill="#b0c4de"/>
<circle cx="384.5" cy="892.0" r="2.6" fill="#b0c4de"/>
<circle cx="384.5" cy="889.3" r="2.6" fill="#b0c4de"/>
<circle cx="386.5" cy="868.1" r="2.6" fill="#b0c4de"/>
<circle cx="384.7" cy="851.4" r="2.6" fill="#b0c4de"/>
<circle cx="390.1" cy="906.5" r="2.6" fill="#b0c4de"/>
<circle cx="388.6" cy="893.9" r="2.6" fill="#b0c4de"/>
<circle cx="388.1" cy="857.5" r="2.6" fill="#b0c4de"/>
<circle cx="394.2" cy="902.5" r="2.6" fill="#b0c4de"/>
<circle cx="393.5" cy="898.2" r="2.6" fill="#b0c4de"/>
<circle cx="393.3" cy="895.7" r="2.6" fill="#b0c4de"/>
<circle cx="392.8" cy="891.2" r="2.6" fill="#b0c4de"/>
<circle cx="394.3" cy="882.1" r="2.6" fill="#b0c4de"/>
<circle cx="393.3" cy="878.6" r="2.6" fill="#b0c4de"/>
<circle cx="394.0" cy="875.6" r="2.6" fill="#b0c4de"/>
<circle cx="393.5" cy="861.6" r="2.6" fill="#b0c4de"/>
<circle cx="393.5" cy="856.2" r="2.6" fill="#b0c4de"/>
<circle cx="398.4" cy="911.1" r="2.6" fill="#b0c4de"/>
<circle cx="398.3" cy="906.9" r="2.6" fill="#b0c4de"/>
<circle cx="397.0" cy="858.9" r="2.6" fill="#b0c4de"/>
<circle cx="402.8" cy="910.5" r="2.6" fill="#b0c4de"/>
<circle cx="401.9" cy="899.2" r="2.6" fill="#b0c4de"/>
<circle cx="403.0" cy="894.2" r="2.6" fill="#b0c4de"/>
<circle cx="402.8" cy="876.6" r="2.6" fill="#b0c4de"/>
<circle cx="406.0" cy="902.8" r="2.6" fill="#b0c4de"/>
<circle cx="407.3" cy="885.3" r="2.6" fill="#b0c4de"/>
<circle cx="411.4" cy="907.5" r="2.6" fill="#b0c4de"/>
<circle cx="411.6" cy="893.7" r="2.6" fill="#b0c4de"/>
<circle cx="410.4" cy="892.0" r="2.6" fill="#b0c4de"/>
<circle cx="410.5" cy="880.8" r="2.6" fill="#b0c4de"/>
<circle cx="414.3" cy="911.4" r="2.6" fill="#b0c4de"/>
<circle cx="415.3" cy="903.1" r="2.6" fill="#b0c4de"/>
<circle cx="413.9" cy="900.7" r="2.6" fill="#b0c4de"/>
<circle cx="415.7" cy="895.3" r="2.6" fill="#b0c4de"/>
<circle cx="415.2" cy="891.5" r="2.6" fill="#b0c4de"/>
<circle cx="414.0" cy="886.1" r="2.6" fill="#b0c4de"/>
<circle cx="414.3" cy="875.1" r="2.6" fill="#b0c4de"/>
<circle cx="420.6" cy="914.8" r="2.6" fill="#b0c4de"/>
<circle cx="418.2" cy="908.4" r="2.6" fill="#b0c4de"/>
<circle cx="418.3" cy="904.9" r="2.6" fill="#b0c4de"/>
<circle cx="419.6" cy="895.2" r="2.6" fill="#b0c4de"/>
<circle cx="421.0" cy="891.0" r="2.6" fill="#b0c4de"/>
<circle cx="424.4" cy="916.7" r="2.6" fill="#b0c4de"/>
<circle cx="424.3" cy="910.7" r="2.6" fill="#b0c4de"/>
<circle cx="425.1" cy="906.3" r="2.6" fill="#b0c4de"/>
<circle cx="423.4" cy="903.8" r="2.6" fill="#b0c4de"/>
<circle cx="424.6" cy="898.8" r="2.6" fill="#b0c4de"/>
<circle cx="422.7" cy="888.8" r="2.6" fill="#b0c4de"/>
<circle cx="423.9" cy="877.3" r="2.6" fill="#b0c4de"/>
<circle cx="428.7" cy="918.8" r="2.6" fill="#b0c4de"/>
<circle cx="427.3" cy="912.2" r="2.6" fill="#b0c4de"/>
<circle cx="428.6" cy="903.9" r="2.6" fill="#b0c4de"/>
<circle cx="428.5" cy="897.6" r="2.6" fill="#b0c4de"/>
<circle cx="429.2" cy="875.8" r="2.6" fill="#b0c4de"/>
<circle cx="432.4" cy="920.6" r="2.6" fill="#b0c4de"/>
<circle cx="433.2" cy="912.2" r="2.6" fill="#b0c4de"/>
<circle cx="433.6" cy="904.5" r="2.6" fill="#b0c4de"/>
<circle cx="433.5" cy="894.0" r="2.6" fill="#b0c4de"/>
<circle cx="433.6" cy="869.1" r="2.6" fill="#b0c4de"/>
<circle cx="436.4" cy="897.6" r="2.6" fill="#b0c4de"/>
<circle cx="436.3" cy="896.4" r="2.6" fill="#b0c4de"/>
<circle cx="435.8" cy="886.1" r="2.6" fill="#b0c4de"/>
<circle cx="440.0" cy="919.4" r="2.6" fill="#b0c4de"/>
<circle cx="440.0" cy="912.9" r="2.6" fill="#b0c4de"/>
<circle cx="442.6" cy="898.4" r="2.6" fill="#b0c4de"/>
<circle cx="446.5" cy="925.6" r="2.6" fill="#b0c4de"/>
<circle cx="445.2" cy="887.8" r="2.6" fill="#b0c4de"/>
<circle cx="448.5" cy="931.8" r="2.6" fill="#b0c4de"/>
<circle cx="449.3" cy="925.5" r="2.6" fill="#b0c4de"/>
<circle cx="450.9" cy="915.2" r="2.6" fill="#b0c4de"/>
<circle cx="450.1" cy="909.0" r="2.6" fill="#b0c4de"/>
<circle cx="453.6" cy="932.3" r="2.6" fill="#b0c4de"/>
<circle cx="454.7" cy="927.9" r="2.6" fill="#b0c4de"/>
<circle cx="454.4" cy="925.8" r="2.6" fill="#b0c4de"/>
<circle cx="454.9" cy="917.9" r="2.6" fill="#b0c4de"/>
<circle cx="453.9" cy="906.6" r="2.6" fill="#b0c4de"/>
<circle cx="453.6" cy="891.9" r="2.6" fill="#b0c4de"/>
<circle cx="457.5" cy="936.7" r="2.6" fill="#b0c4de"/>
<circle cx="459.4" cy="926.9" r="2.6" fill="#b0c4de"/>
<circle cx="459.7" cy="920.2" r="2.6" fill="#b0c4de"/>
<circle cx="457.3" cy="896.2" r="2.6" fill="#b0c4de"/>
<circle cx="463.9" cy="939.4" r="2.6" fill="#b0c4de"/>
<circle cx="463.1" cy="937.4" r="2.6" fill="#b0c4de"/>
<circle cx="466.9" cy="942.1" r="2.6" fill="#b0c4de"/>
<circle cx="466.6" cy="932.5" r="2.6" fill="#b0c4de"/>
<circle cx="467.2" cy="928.2" r="2.6" fill="#b0c4de"/>
<circle cx="472.7" cy="948.3" r="2.6" fill="#b0c4de"/>
<circle cx="470.7" cy="944.0" r="2.6" fill="#b0c4de"/>
<circle cx="472.0" cy="928.4" r="2.6" fill="#b0c4de"/>
<circle cx="472.5" cy="910.2" r="2.6" fill="#b0c4de"/>
<circle cx="471.9" cy="900.4" r="2.6" fill="#b0c4de"/>
<circle cx="476.2" cy="949.3" r="2.6" fill="#b0c4de"/>
<circle cx="476.5" cy="947.4" r="2.6" fill="#b0c4de"/>
<circle cx="474.4" cy="937.6" r="2.6" fill="#b0c4de"/>
<circle cx="475.2" cy="921.7" r="2.6" fill="#b0c4de"/>
<circle cx="476.6" cy="913.1" r="2.6" fill="#b0c4de"/>
<circle cx="475.3" cy="908.5" r="2.6" fill="#b0c4de"/>
<circle cx="479.9" cy="954.5" r="2.6" fill="#b0c4de"/>
<circle cx="480.1" cy="942.3" r="2.6" fill="#b0c4de"/>
<circle cx="479.1" cy="926.5" r="2.6" fill="#b0c4de"/>
<circle cx="480.8" cy="912.5" r="2.6" fill="#b0c4de"/>
<circle cx="484.7" cy="954.6" r="2.6" fill="#b0c4de"/>
<circle cx="483.1" cy="947.7" r="2.6" fill="#b0c4de"/>
<circle cx="485.0" cy="932.2" r="2.6" fill="#b0c4de"/>
<circle cx="484.2" cy="929.6" r="2.6" fill="#b0c4de"/>
<circle cx="484.9" cy="925.3" r="2.6" fill="#b0c4de"/>
<circle cx="488.4" cy="960.8" r="2.6" fill="#b0c4de"/>
<circle cx="487.7" cy="957.5" r="2.6" fill="#b0c4de"/>
<circle cx="489.5" cy="950.5" r="2.6" fill="#b0c4de"/>
<circle cx="489.7" cy="910.7" r="2.6" fill="#b0c4de"/>
<circle cx="494.0" cy="961.3" r="2.6" fill="#b0c4de"/>
<circle cx="493.9" cy="954.9" r="2.6" fill="#b0c4de"/>
<circle cx="494.2" cy="947.3" r="2.6" fill="#b0c4de"/>
<circle cx="493.2" cy="937.9" r="2.6" fill="#b0c4de"/>
<circle cx="492.9" cy="937.4" r="2.6" fill="#b0c4de"/>
<circle cx="496.4" cy="967.3" r="2.6" fill="#b0c4de"/>
<circle cx="497.0" cy="934.8" r="2.6" fill="#b0c4de"/>
<circle cx="500.0" cy="968.3" r="2.6" fill="#b0c4de"/>
<circle cx="502.1" cy="941.0" r="2.6" fill="#b0c4de"/>
<circle cx="506.7" cy="973.4" r="2.6" fill="#b0c4de"/>
<circle cx="505.0" cy="969.7" r="2.6" fill="#b0c4de"/>
<circle cx="506.4" cy="948.4" r="2.6" fill="#b0c4de"/>
<circle cx="505.3" cy="947.2" r="2.6" fill="#b0c4de"/>
<circle cx="509.9" cy="973.2" r="2.6" fill="#b0c4de"/>
<circle cx="511.1" cy="968.1" r="2.6" fill="#b0c4de"/>
<circle cx="511.0" cy="967.2" r="2.6" fill="#b0c4de"/>
<circle cx="510.5" cy="950.3" r="2.6" fill="#b0c4de"/>
<circle cx="508.8" cy="945.0" r="2.6" fill="#b0c4de"/>
<circle cx="513.4" cy="974.4" r="2.6" fill="#b0c4de"/>
<circle cx="515.0" cy="973.6" r="2.6" fill="#b0c4de"/>
<circle cx="513.7" cy="963.8" r="2.6" fill="#b0c4de"/>
<circle cx="515.1" cy="961.2" r="2.6" fill="#b0c4de"/>
<circle cx="515.0" cy="925.3" r="2.6" fill="#b0c4de"/>
<circle cx="517.0" cy="981.9" r="2.6" fill="#b0c4de"/>
<circle cx="517.8" cy="978.9" r="2.6" fill="#b0c4de"/>
<circle cx="518.4" cy="974.7" r="2.6" fill="#b0c4de"/>
<circle cx="518.1" cy="971.6" r="2.6" fill="#b0c4de"/>
<circle cx="523.4" cy="983.7" r="2.6" fill="#b0c4de"/>
<circle cx="522.8" cy="958.2" r="2.6" fill="#b0c4de"/>
<circle cx="522.8" cy="942.3" r="2.6" fill="#b0c4de"/>
<circle cx="527.0" cy="980.2" r="2.6" fill="#b0c4de"/>
<circle cx="526.2" cy="967.3" r="2.6" fill="#b0c4de"/>
<circle cx="531.9" cy="976.1" r="2.6" fill="#b0c4de"/>
<circle cx="530.5" cy="965.9" r="2.6" fill="#b0c4de"/>
<circle cx="532.1" cy="946.5" r="2.6" fill="#b0c4de"/>
<circle cx="535.0" cy="973.1" r="2.6" fill="#b0c4de"/>
<circle cx="540.2" cy="986.8" r="2.6" fill="#b0c4de"/>
<circle cx="538.7" cy="981.8" r="2.6" fill="#b0c4de"/>
<circle cx="540.1" cy="981.2" r="2.6" fill="#b0c4de"/>
<circle cx="539.9" cy="964.4" r="2.6" fill="#b0c4de"/>
<circle cx="539.8" cy="959.1" r="2.6" fill="#b0c4de"/>
<circle cx="544.1" cy="979.3" r="2.6" fill="#b0c4de"/>
<circle cx="543.0" cy="963.2" r="2.6" fill="#b0c4de"/>
<circle cx="544.1" cy="951.8" r="2.6" fill="#b0c4de"/>
<circle cx="550.1" cy="989.5" r="2.6" fill="#b0c4de"/>
<circle cx="547.8" cy="988.3" r="2.6" fill="#b0c4de"/>
<circle cx="548.3" cy="980.0" r="2.6" fill="#b0c4de"/>
<circle cx="549.5" cy="975.1" r="2.6" fill="#b0c4de"/>
<circle cx="553.6" cy="986.2" r="2.6" fill="#b0c4de"/>
<circle cx="553.7" cy="963.5" r="2.6" fill="#b0c4de"/>
<circle cx="552.6" cy="947.6" r="2.6" fill="#b0c4de"/>
<circle cx="557.8" cy="978.0" r="2.6" fill="#b0c4de"/>
<circle cx="558.0" cy="964.4" r="2.6" fill="#b0c4de"/>
<circle cx="561.6" cy="998.3" r="2.6" fill="#b0c4de"/>
<circle cx="562.3" cy="982.1" r="2.6" fill="#b0c4de"/>
<circle cx="562.1" cy="980.3" r="2.6" fill="#b0c4de"/>
<circle cx="561.1" cy="955.0" r="2.6" fill="#b0c4de"/>
<circle cx="566.4" cy="999.0" r="2.6" fill="#b0c4de"/>
<circle cx="566.9" cy="992.9" r="2.6" fill="#b0c4de"/>
<circle cx="565.2" cy="989.6" r="2.6" fill="#b0c4de"/>
<circle cx="565.0" cy="969.3" r="2.6" fill="#b0c4de"/>
<circle cx="567.2" cy="964.0" r="2.6" fill="#b0c4de"/>
<circle cx="568.9" cy="998.2" r="2.6" fill="#b0c4de"/>
<circle cx="571.6" cy="996.2" r="2.6" fill="#b0c4de"/>
<circle cx="568.9" cy="985.5" r="2.6" fill="#b0c4de"/>
<circle cx="569.4" cy="979.7" r="2.6" fill="#b0c4de"/>
<circle cx="578.4" cy="995.5" r="2.6" fill="#b0c4de"/>
<circle cx="577.9" cy="976.2" r="2.6" fill="#b0c4de"/>
<circle cx="582.9" cy="1007.2" r="2.6" fill="#b0c4de"/>
<circle cx="582.8" cy="997.3" r="2.6" fill="#b0c4de"/>
<circle cx="583.2" cy="993.5" r="2.6" fill="#b0c4de"/>
<circle cx="582.2" cy="989.4" r="2.6" fill="#b0c4de"/>
<circle cx="581.7" cy="985.6" r="2.6" fill="#b0c4de"/>
<circle cx="583.4" cy="966.8" r="2.6" fill="#b0c4de"/>
<circle cx="587.7" cy="1008.1" r="2.6" fill="#b0c4de"/>
<circle cx="587.5" cy="998.8" r="2.6" fill="#b0c4de"/>
<circle cx="587.9" cy="989.6" r="2.6" fill="#b0c4de"/>
<circle cx="586.4" cy="960.4" r="2.6" fill="#b0c4de"/>
<circle cx="590.2" cy="1011.7" r="2.6" fill="#b0c4de"/>
<circle cx="591.1" cy="1004.2" r="2.6" fill="#b0c4de"/>
<circle cx="591.6" cy="993.0" r="2.6" fill="#b0c4de"/>
<circle cx="592.3" cy="974.5" r="2.6" fill="#b0c4de"/>
<circle cx="590.7" cy="967.7" r="2.6" fill="#b0c4de"/>
<circle cx="594.7" cy="1011.1" r="2.6" fill="#b0c4de"/>
<circle cx="594.7" cy="1006.6" r="2.6" fill="#b0c4de"/>
<circle cx="594.9" cy="999.5" r="2.6" fill="#b0c4de"/>
<circle cx="594.8" cy="995.4" r="2.6" fill="#b0c4de"/>
<circle cx="596.2" cy="977.1" r="2.6" fill="#b0c4de"/>
<circle cx="597.1" cy="970.3" r="2.6" fill="#b0c4de"/>
<circle cx="201.3" cy="983.6" r="2.6" fill="#b0c4de"/>
<circle cx="205.5" cy="990.9" r="2.6" fill="#b0c4de"/>
<circle cx="208.4" cy="994.4" r="2.6" fill="#b0c4de"/>
<circle cx="214.4" cy="997.6" r="2.6" fill="#b0c4de"/>
<circle cx="213.5" cy="1000.1" r="2.6" fill="#b0c4de"/>
<circle cx="216.2" cy="1001.0" r="2.6" fill="#b0c4de"/>
<circle cx="220.3" cy="999.8" r="2.6" fill="#b0c4de"/>
<circle cx="224.7" cy="1003.8" r="2.6" fill="#b0c4de"/>
<circle cx="230.9" cy="1005.7" r="2.6" fill="#b0c4de"/>
<circle cx="230.0" cy="1012.6" r="2.6" fill="#b0c4de"/>
<circle cx="234.3" cy="1007.0" r="2.6" fill="#b0c4de"/>
<circle cx="238.5" cy="1009.1" r="2.6" fill="#b0c4de"/>
<circle cx="245.9" cy="1012.8" r="2.6" fill="#b0c4de"/>
<circle cx="252.9" cy="1015.8" r="2.6" fill="#b0c4de"/>
<circle cx="254.9" cy="1016.7" r="2.6" fill="#b0c4de"/>
<circle cx="259.2" cy="1019.5" r="2.6" fill="#b0c4de"/>
<circle cx="264.2" cy="1019.1" r="2.6" fill="#b0c4de"/>
<circle cx="269.7" cy="1023.3" r="2.6" fill="#b0c4de"/>
<circle cx="268.4" cy="1024.3" r="2.6" fill="#b0c4de"/>
<circle cx="272.5" cy="1023.3" r="2.6" fill="#b0c4de"/>
<circle cx="273.8" cy="1026.0" r="2.6" fill="#b0c4de"/>
<circle cx="277.2" cy="1025.2" r="2.6" fill="#b0c4de"/>
<circle cx="286.2" cy="1031.4" r="2.6" fill="#b0c4de"/>
<circle cx="293.7" cy="1035.4" r="2.6" fill="#b0c4de"/>
<circle cx="295.1" cy="1038.2" r="2.6" fill="#b0c4de"/>
<circle cx="299.7" cy="1045.4" r="2.6" fill="#b0c4de"/>
<circle cx="303.6" cy="1045.1" r="2.6" fill="#b0c4de"/>
<circle cx="307.2" cy="1047.9" r="2.6" fill="#b0c4de"/>
<circle cx="306.2" cy="1052.4" r="2.6" fill="#b0c4de"/>
<circle cx="312.6" cy="1051.1" r="2.6" fill="#b0c4de"/>
<circle cx="317.0" cy="1059.1" r="2.6" fill="#b0c4de"/>
<circle cx="321.6" cy="1055.7" r="2.6" fill="#b0c4de"/>
<circle cx="319.8" cy="1061.8" r="2.6" fill="#b0c4de"/>
<circle cx="323.4" cy="1054.9" r="2.6" fill="#b0c4de"/>
<circle cx="328.4" cy="1054.7" r="2.6" fill="#b0c4de"/>
<circle cx="328.9" cy="1058.5" r="2.6" fill="#b0c4de"/>
<circle cx="338.4" cy="1062.8" r="2.6" fill="#b0c4de"/>
<circle cx="343.1" cy="1057.1" r="2.6" fill="#b0c4de"/>
<circle cx="342.6" cy="1064.8" r="2.6" fill="#b0c4de"/>
<circle cx="353.6" cy="1060.9" r="2.6" fill="#b0c4de"/>
<circle cx="371.9" cy="1065.2" r="2.6" fill="#b0c4de"/>
<circle cx="377.4" cy="1065.2" r="2.6" fill="#b0c4de"/>
<circle cx="388.0" cy="1065.2" r="2.6" fill="#b0c4de"/>
<circle cx="392.8" cy="1066.6" r="2.6" fill="#b0c4de"/>
<circle cx="393.0" cy="1069.8" r="2.6" fill="#b0c4de"/>
<circle cx="398.0" cy="1067.5" r="2.6" fill="#b0c4de"/>
<circle cx="402.6" cy="1068.9" r="2.6" fill="#b0c4de"/>
<circle cx="410.4" cy="1068.1" r="2.6" fill="#b0c4de"/>
<circle cx="410.1" cy="1073.7" r="2.6" fill="#b0c4de"/>
<circle cx="413.6" cy="1068.8" r="2.6" fill="#b0c4de"/>
<circle cx="420.3" cy="1068.8" r="2.6" fill="#b0c4de"/>
<circle cx="417.9" cy="1073.3" r="2.6" fill="#b0c4de"/>
<circle cx="426.7" cy="1069.6" r="2.6" fill="#b0c4de"/>
<circle cx="427.7" cy="1074.9" r="2.6" fill="#b0c4de"/>
<circle cx="431.4" cy="1068.7" r="2.6" fill="#b0c4de"/>
<circle cx="437.2" cy="1072.2" r="2.6" fill="#b0c4de"/>
<circle cx="435.0" cy="1073.1" r="2.6" fill="#b0c4de"/>
<circle cx="440.2" cy="1069.4" r="2.6" fill="#b0c4de"/>
<circle cx="441.9" cy="1080.0" r="2.6" fill="#b0c4de"/>
<circle cx="449.9" cy="1073.6" r="2.6" fill="#b0c4de"/>
<circle cx="452.4" cy="1073.5" r="2.6" fill="#b0c4de"/>
<circle cx="457.3" cy="1074.3" r="2.6" fill="#b0c4de"/>
<circle cx="461.4" cy="1075.8" r="2.6" fill="#b0c4de"/>
<circle cx="463.2" cy="1083.4" r="2.6" fill="#b0c4de"/>
<circle cx="467.4" cy="1073.2" r="2.6" fill="#b0c4de"/>
<circle cx="471.7" cy="1073.3" r="2.6" fill="#b0c4de"/>
<circle cx="470.5" cy="1084.9" r="2.6" fill="#b0c4de"/>
<circle cx="474.4" cy="1075.9" r="2.6" fill="#b0c4de"/>
<circle cx="473.8" cy="1087.4" r="2.6" fill="#b0c4de"/>
<circle cx="478.7" cy="1074.4" r="2.6" fill="#b0c4de"/>
<circle cx="480.7" cy="1081.9" r="2.6" fill="#b0c4de"/>
<circle cx="479.7" cy="1084.4" r="2.6" fill="#b0c4de"/>
<circle cx="483.7" cy="1077.1" r="2.6" fill="#b0c4de"/>
<circle cx="483.7" cy="1081.6" r="2.6" fill="#b0c4de"/>
<circle cx="484.5" cy="1085.4" r="2.6" fill="#b0c4de"/>
<circle cx="489.5" cy="1079.3" r="2.6" fill="#b0c4de"/>
<circle cx="489.6" cy="1082.0" r="2.6" fill="#b0c4de"/>
<circle cx="486.7" cy="1090.3" r="2.6" fill="#b0c4de"/>
<circle cx="492.6" cy="1076.4" r="2.6" fill="#b0c4de"/>
<circle cx="498.2" cy="1077.1" r="2.6" fill="#b0c4de"/>
<circle cx="498.1" cy="1088.8" r="2.6" fill="#b0c4de"/>
<circle cx="502.4" cy="1088.3" r="2.6" fill="#b0c4de"/>
<circle cx="504.6" cy="1080.4" r="2.6" fill="#b0c4de"/>
<circle cx="506.2" cy="1085.3" r="2.6" fill="#b0c4de"/>
<circle cx="506.7" cy="1088.5" r="2.6" fill="#b0c4de"/>
<circle cx="509.7" cy="1079.7" r="2.6" fill="#b0c4de"/>
<circle cx="511.1" cy="1094.3" r="2.6" fill="#b0c4de"/>
<circle cx="518.5" cy="1081.2" r="2.6" fill="#b0c4de"/>
<circle cx="517.3" cy="1087.1" r="2.6" fill="#b0c4de"/>
<circle cx="521.5" cy="1076.6" r="2.6" fill="#b0c4de"/>
<circle cx="521.1" cy="1085.0" r="2.6" fill="#b0c4de"/>
<circle cx="531.9" cy="1082.7" r="2.6" fill="#b0c4de"/>
<circle cx="531.6" cy="1092.9" r="2.6" fill="#b0c4de"/>
<circle cx="535.1" cy="1082.2" r="2.6" fill="#b0c4de"/>
<circle cx="540.1" cy="1082.1" r="2.6" fill="#b0c4de"/>
<circle cx="538.6" cy="1085.9" r="2.6" fill="#b0c4de"/>
<circle cx="544.0" cy="1085.2" r="2.6" fill="#b0c4de"/>
<circle cx="548.0" cy="1080.9" r="2.6" fill="#b0c4de"/>
<circle cx="549.4" cy="1085.7" r="2.6" fill="#b0c4de"/>
<circle cx="552.0" cy="1079.5" r="2.6" fill="#b0c4de"/>
<circle cx="552.0" cy="1086.9" r="2.6" fill="#b0c4de"/>
<circle cx="556.3" cy="1079.2" r="2.6" fill="#b0c4de"/>
<circle cx="557.1" cy="1082.2" r="2.6" fill="#b0c4de"/>
<circle cx="555.4" cy="1085.4" r="2.6" fill="#b0c4de"/>
<circle cx="564.8" cy="1074.5" r="2.6" fill="#b0c4de"/>
<circle cx="568.4" cy="1078.3" r="2.6" fill="#b0c4de"/>
<circle cx="568.9" cy="1081.8" r="2.6" fill="#b0c4de"/>
<circle cx="575.3" cy="1077.8" r="2.6" fill="#b0c4de"/>
<circle cx="575.3" cy="1085.1" r="2.6" fill="#b0c4de"/>
<circle cx="578.1" cy="1076.5" r="2.6" fill="#b0c4de"/>
<circle cx="579.0" cy="1086.3" r="2.6" fill="#b0c4de"/>
<circle cx="581.2" cy="1080.0" r="2.6" fill="#b0c4de"/>
<circle cx="582.5" cy="1083.1" r="2.6" fill="#b0c4de"/>
<circle cx="588.4" cy="1079.2" r="2.6" fill="#b0c4de"/>
<circle cx="587.1" cy="1084.7" r="2.6" fill="#b0c4de"/>
<circle cx="586.5" cy="1093.3" r="2.6" fill="#b0c4de"/>
<circle cx="592.0" cy="1079.1" r="2.6" fill="#b0c4de"/>
<circle cx="591.3" cy="1084.2" r="2.6" fill="#b0c4de"/>
<circle cx="596.9" cy="1083.7" r="2.6" fill="#b0c4de"/>
<circle cx="625.5" cy="995.1" r="2.6" fill="#b0c4de"/>
<circle cx="657.1" cy="996.2" r="2.6" fill="#b0c4de"/>
<circle cx="608.8" cy="1000.3" r="2.6" fill="#b0c4de"/>
<circle cx="617.1" cy="1000.8" r="2.6" fill="#b0c4de"/>
<circle cx="622.0" cy="1001.4" r="2.6" fill="#b0c4de"/>
<circle cx="657.1" cy="999.9" r="2.6" fill="#b0c4de"/>
<circle cx="613.5" cy="1005.7" r="2.6" fill="#b0c4de"/>
<circle cx="630.2" cy="1004.2" r="2.6" fill="#b0c4de"/>
<circle cx="644.2" cy="1005.5" r="2.6" fill="#b0c4de"/>
<circle cx="653.7" cy="1004.2" r="2.6" fill="#b0c4de"/>
<circle cx="665.5" cy="1004.2" r="2.6" fill="#b0c4de"/>
<circle cx="599.1" cy="1009.5" r="2.6" fill="#b0c4de"/>
<circle cx="609.7" cy="1009.0" r="2.6" fill="#b0c4de"/>
<circle cx="614.1" cy="1009.5" r="2.6" fill="#b0c4de"/>
<circle cx="618.1" cy="1009.7" r="2.6" fill="#b0c4de"/>
<circle cx="621.1" cy="1009.7" r="2.6" fill="#b0c4de"/>
<circle cx="635.7" cy="1008.6" r="2.6" fill="#b0c4de"/>
<circle cx="652.5" cy="1009.7" r="2.6" fill="#b0c4de"/>
<circle cx="656.3" cy="1009.0" r="2.6" fill="#b0c4de"/>
<circle cx="599.2" cy="1014.3" r="2.6" fill="#b0c4de"/>
<circle cx="613.7" cy="1012.6" r="2.6" fill="#b0c4de"/>
<circle cx="617.2" cy="1014.5" r="2.6" fill="#b0c4de"/>
<circle cx="621.3" cy="1014.1" r="2.6" fill="#b0c4de"/>
<circle cx="630.0" cy="1014.3" r="2.6" fill="#b0c4de"/>
<circle cx="643.2" cy="1014.1" r="2.6" fill="#b0c4de"/>
<circle cx="662.6" cy="1013.5" r="2.6" fill="#b0c4de"/>
<circle cx="666.3" cy="1014.2" r="2.6" fill="#b0c4de"/>
<circle cx="600.9" cy="1017.5" r="2.6" fill="#b0c4de"/>
<circle cx="612.3" cy="1018.2" r="2.6" fill="#b0c4de"/>
<circle cx="618.5" cy="1018.1" r="2.6" fill="#b0c4de"/>
<circle cx="631.1" cy="1017.9" r="2.6" fill="#b0c4de"/>
<circle cx="634.7" cy="1017.7" r="2.6" fill="#b0c4de"/>
<circle cx="643.6" cy="1017.1" r="2.6" fill="#b0c4de"/>
<circle cx="665.6" cy="1017.9" r="2.6" fill="#b0c4de"/>
<circle cx="600.6" cy="1021.8" r="2.6" fill="#b0c4de"/>
<circle cx="604.3" cy="1021.5" r="2.6" fill="#b0c4de"/>
<circle cx="609.0" cy="1022.6" r="2.6" fill="#b0c4de"/>
<circle cx="612.3" cy="1022.5" r="2.6" fill="#b0c4de"/>
<circle cx="617.2" cy="1021.8" r="2.6" fill="#b0c4de"/>
<circle cx="622.0" cy="1022.1" r="2.6" fill="#b0c4de"/>
<circle cx="626.7" cy="1022.0" r="2.6" fill="#b0c4de"/>
<circle cx="630.3" cy="1022.9" r="2.6" fill="#b0c4de"/>
<circle cx="635.4" cy="1022.9" r="2.6" fill="#b0c4de"/>
<circle cx="644.8" cy="1023.4" r="2.6" fill="#b0c4de"/>
<circle cx="652.3" cy="1022.7" r="2.6" fill="#b0c4de"/>
<circle cx="656.6" cy="1021.6" r="2.6" fill="#b0c4de"/>
<circle cx="661.4" cy="1023.2" r="2.6" fill="#b0c4de"/>
<circle cx="599.7" cy="1026.4" r="2.6" fill="#b0c4de"/>
<circle cx="603.6" cy="1027.5" r="2.6" fill="#b0c4de"/>
<circle cx="607.8" cy="1027.8" r="2.6" fill="#b0c4de"/>
<circle cx="613.7" cy="1026.7" r="2.6" fill="#b0c4de"/>
<circle cx="621.9" cy="1027.1" r="2.6" fill="#b0c4de"/>
<circle cx="627.2" cy="1026.5" r="2.6" fill="#b0c4de"/>
<circle cx="630.0" cy="1026.0" r="2.6" fill="#b0c4de"/>
<circle cx="635.8" cy="1027.7" r="2.6" fill="#b0c4de"/>
<circle cx="643.2" cy="1027.4" r="2.6" fill="#b0c4de"/>
<circle cx="649.0" cy="1027.1" r="2.6" fill="#b0c4de"/>
<circle cx="652.1" cy="1026.1" r="2.6" fill="#b0c4de"/>
<circle cx="657.1" cy="1026.4" r="2.6" fill="#b0c4de"/>
<circle cx="666.5" cy="1026.0" r="2.6" fill="#b0c4de"/>
<circle cx="600.8" cy="1030.6" r="2.6" fill="#b0c4de"/>
<circle cx="604.6" cy="1031.0" r="2.6" fill="#b0c4de"/>
<circle cx="608.1" cy="1031.6" r="2.6" fill="#b0c4de"/>
<circle cx="613.4" cy="1031.8" r="2.6" fill="#b0c4de"/>
<circle cx="617.4" cy="1030.9" r="2.6" fill="#b0c4de"/>
<circle cx="625.8" cy="1031.1" r="2.6" fill="#b0c4de"/>
<circle cx="630.8" cy="1030.3" r="2.6" fill="#b0c4de"/>
<circle cx="635.2" cy="1031.3" r="2.6" fill="#b0c4de"/>
<circle cx="639.8" cy="1030.8" r="2.6" fill="#b0c4de"/>
<circle cx="643.1" cy="1031.9" r="2.6" fill="#b0c4de"/>
<circle cx="647.7" cy="1030.8" r="2.6" fill="#b0c4de"/>
<circle cx="652.0" cy="1032.0" r="2.6" fill="#b0c4de"/>
<circle cx="657.0" cy="1030.3" r="2.6" fill="#b0c4de"/>
<circle cx="662.5" cy="1030.6" r="2.6" fill="#b0c4de"/>
<circle cx="666.1" cy="1031.5" r="2.6" fill="#b0c4de"/>
<circle cx="599.4" cy="1035.8" r="2.6" fill="#b0c4de"/>
<circle cx="603.5" cy="1036.0" r="2.6" fill="#b0c4de"/>
<circle cx="613.9" cy="1035.0" r="2.6" fill="#b0c4de"/>
<circle cx="617.8" cy="1035.8" r="2.6" fill="#b0c4de"/>
<circle cx="622.1" cy="1035.1" r="2.6" fill="#b0c4de"/>
<circle cx="625.6" cy="1034.7" r="2.6" fill="#b0c4de"/>
<circle cx="630.0" cy="1036.4" r="2.6" fill="#b0c4de"/>
<circle cx="640.5" cy="1035.8" r="2.6" fill="#b0c4de"/>
<circle cx="643.8" cy="1035.3" r="2.6" fill="#b0c4de"/>
<circle cx="647.5" cy="1035.1" r="2.6" fill="#b0c4de"/>
<circle cx="652.7" cy="1035.6" r="2.6" fill="#b0c4de"/>
<circle cx="658.0" cy="1036.4" r="2.6" fill="#b0c4de"/>
<circle cx="662.2" cy="1035.3" r="2.6" fill="#b0c4de"/>
<circle cx="666.6" cy="1035.3" r="2.6" fill="#b0c4de"/>
<circle cx="599.7" cy="1039.3" r="2.6" fill="#b0c4de"/>
<circle cx="603.6" cy="1040.4" r="2.6" fill="#b0c4de"/>
<circle cx="608.8" cy="1040.6" r="2.6" fill="#b0c4de"/>
<circle cx="614.0" cy="1040.5" r="2.6" fill="#b0c4de"/>
<circle cx="618.1" cy="1040.4" r="2.6" fill="#b0c4de"/>
<circle cx="626.7" cy="1040.1" r="2.6" fill="#b0c4de"/>
<circle cx="631.7" cy="1039.6" r="2.6" fill="#b0c4de"/>
<circle cx="635.2" cy="1039.6" r="2.6" fill="#b0c4de"/>
<circle cx="639.9" cy="1039.0" r="2.6" fill="#b0c4de"/>
<circle cx="644.2" cy="1039.8" r="2.6" fill="#b0c4de"/>
<circle cx="648.3" cy="1039.2" r="2.6" fill="#b0c4de"/>
<circle cx="653.7" cy="1039.2" r="2.6" fill="#b0c4de"/>
<circle cx="657.4" cy="1040.2" r="2.6" fill="#b0c4de"/>
<circle cx="661.6" cy="1041.0" r="2.6" fill="#b0c4de"/>
<circle cx="600.6" cy="1044.7" r="2.6" fill="#b0c4de"/>
<circle cx="605.4" cy="1043.5" r="2.6" fill="#b0c4de"/>
<circle cx="608.3" cy="1045.0" r="2.6" fill="#b0c4de"/>
<circle cx="617.6" cy="1045.2" r="2.6" fill="#b0c4de"/>
<circle cx="622.2" cy="1045.2" r="2.6" fill="#b0c4de"/>
<circle cx="631.7" cy="1044.0" r="2.6" fill="#b0c4de"/>
<circle cx="635.7" cy="1044.0" r="2.6" fill="#b0c4de"/>
<circle cx="640.4" cy="1045.0" r="2.6" fill="#b0c4de"/>
<circle cx="648.7" cy="1044.9" r="2.6" fill="#b0c4de"/>
<circle cx="656.8" cy="1043.6" r="2.6" fill="#b0c4de"/>
<circle cx="661.1" cy="1044.5" r="2.6" fill="#b0c4de"/>
<circle cx="665.3" cy="1043.6" r="2.6" fill="#b0c4de"/>
<circle cx="600.6" cy="1048.0" r="2.6" fill="#b0c4de"/>
<circle cx="605.4" cy="1048.5" r="2.6" fill="#b0c4de"/>
<circle cx="609.4" cy="1047.8" r="2.6" fill="#b0c4de"/>
<circle cx="618.1" cy="1048.5" r="2.6" fill="#b0c4de"/>
<circle cx="622.9" cy="1047.9" r="2.6" fill="#b0c4de"/>
<circle cx="626.7" cy="1049.7" r="2.6" fill="#b0c4de"/>
<circle cx="630.2" cy="1048.7" r="2.6" fill="#b0c4de"/>
<circle cx="635.3" cy="1049.1" r="2.6" fill="#b0c4de"/>
<circle cx="639.0" cy="1049.0" r="2.6" fill="#b0c4de"/>
<circle cx="643.2" cy="1048.0" r="2.6" fill="#b0c4de"/>
<circle cx="648.2" cy="1048.5" r="2.6" fill="#b0c4de"/>
<circle cx="651.9" cy="1049.1" r="2.6" fill="#b0c4de"/>
<circle cx="662.4" cy="1048.1" r="2.6" fill="#b0c4de"/>
<circle cx="665.7" cy="1049.5" r="2.6" fill="#b0c4de"/>
<circle cx="600.2" cy="1054.0" r="2.6" fill="#b0c4de"/>
<circle cx="608.7" cy="1052.4" r="2.6" fill="#b0c4de"/>
<circle cx="612.6" cy="1053.6" r="2.6" fill="#b0c4de"/>
<circle cx="616.6" cy="1054.0" r="2.6" fill="#b0c4de"/>
<circle cx="621.5" cy="1053.2" r="2.6" fill="#b0c4de"/>
<circle cx="626.9" cy="1053.6" r="2.6" fill="#b0c4de"/>
<circle cx="631.0" cy="1052.5" r="2.6" fill="#b0c4de"/>
<circle cx="634.4" cy="1052.8" r="2.6" fill="#b0c4de"/>
<circle cx="639.7" cy="1053.5" r="2.6" fill="#b0c4de"/>
<circle cx="648.1" cy="1052.6" r="2.6" fill="#b0c4de"/>
<circle cx="652.5" cy="1052.6" r="2.6" fill="#b0c4de"/>
<circle cx="657.0" cy="1053.9" r="2.6" fill="#b0c4de"/>
<circle cx="662.2" cy="1053.1" r="2.6" fill="#b0c4de"/>
<circle cx="665.5" cy="1053.0" r="2.6" fill="#b0c4de"/>
<circle cx="599.2" cy="1057.5" r="2.6" fill="#b0c4de"/>
<circle cx="604.0" cy="1057.3" r="2.6" fill="#b0c4de"/>
<circle cx="609.0" cy="1056.7" r="2.6" fill="#b0c4de"/>
<circle cx="612.7" cy="1057.0" r="2.6" fill="#b0c4de"/>
<circle cx="622.8" cy="1056.9" r="2.6" fill="#b0c4de"/>
<circle cx="626.0" cy="1057.6" r="2.6" fill="#b0c4de"/>
<circle cx="643.1" cy="1057.3" r="2.6" fill="#b0c4de"/>
<circle cx="647.4" cy="1057.3" r="2.6" fill="#b0c4de"/>
<circle cx="653.5" cy="1057.0" r="2.6" fill="#b0c4de"/>
<circle cx="656.5" cy="1058.3" r="2.6" fill="#b0c4de"/>
<circle cx="661.5" cy="1057.0" r="2.6" fill="#b0c4de"/>
<circle cx="667.0" cy="1058.0" r="2.6" fill="#b0c4de"/>
<circle cx="599.7" cy="1063.0" r="2.6" fill="#b0c4de"/>
<circle cx="608.3" cy="1061.1" r="2.6" fill="#b0c4de"/>
<circle cx="613.2" cy="1062.7" r="2.6" fill="#b0c4de"/>
<circle cx="627.4" cy="1062.2" r="2.6" fill="#b0c4de"/>
<circle cx="630.2" cy="1062.9" r="2.6" fill="#b0c4de"/>
<circle cx="635.7" cy="1062.3" r="2.6" fill="#b0c4de"/>
<circle cx="640.5" cy="1061.6" r="2.6" fill="#b0c4de"/>
<circle cx="644.1" cy="1062.0" r="2.6" fill="#b0c4de"/>
<circle cx="649.2" cy="1062.7" r="2.6" fill="#b0c4de"/>
<circle cx="653.5" cy="1061.4" r="2.6" fill="#b0c4de"/>
<circle cx="656.8" cy="1061.1" r="2.6" fill="#b0c4de"/>
<circle cx="660.6" cy="1062.9" r="2.6" fill="#b0c4de"/>
<circle cx="599.1" cy="1065.9" r="2.6" fill="#b0c4de"/>
<circle cx="604.0" cy="1065.6" r="2.6" fill="#b0c4de"/>
<circle cx="609.0" cy="1065.7" r="2.6" fill="#b0c4de"/>
<circle cx="613.3" cy="1066.9" r="2.6" fill="#b0c4de"/>
<circle cx="618.6" cy="1065.9" r="2.6" fill="#b0c4de"/>
<circle cx="621.2" cy="1067.2" r="2.6" fill="#b0c4de"/>
<circle cx="625.7" cy="1067.0" r="2.6" fill="#b0c4de"/>
<circle cx="636.0" cy="1067.3" r="2.6" fill="#b0c4de"/>
<circle cx="640.2" cy="1066.8" r="2.6" fill="#b0c4de"/>
<circle cx="643.8" cy="1066.0" r="2.6" fill="#b0c4de"/>
<circle cx="661.7" cy="1066.8" r="2.6" fill="#b0c4de"/>
<circle cx="665.0" cy="1067.2" r="2.6" fill="#b0c4de"/>
<circle cx="604.1" cy="1070.7" r="2.6" fill="#b0c4de"/>
<circle cx="613.6" cy="1071.2" r="2.6" fill="#b0c4de"/>
<circle cx="618.5" cy="1071.1" r="2.6" fill="#b0c4de"/>
<circle cx="626.2" cy="1070.4" r="2.6" fill="#b0c4de"/>
<circle cx="631.3" cy="1071.8" r="2.6" fill="#b0c4de"/>
<circle cx="657.0" cy="1070.8" r="2.6" fill="#b0c4de"/>
<circle cx="662.4" cy="1070.5" r="2.6" fill="#b0c4de"/>
<circle cx="665.2" cy="1070.9" r="2.6" fill="#b0c4de"/>
<circle cx="600.9" cy="1075.5" r="2.6" fill="#b0c4de"/>
<circle cx="603.7" cy="1074.3" r="2.6" fill="#b0c4de"/>
<circle cx="613.2" cy="1075.2" r="2.6" fill="#b0c4de"/>
<circle cx="618.4" cy="1074.3" r="2.6" fill="#b0c4de"/>
<circle cx="622.6" cy="1074.8" r="2.6" fill="#b0c4de"/>
<circle cx="626.3" cy="1074.8" r="2.6" fill="#b0c4de"/>
<circle cx="635.3" cy="1075.6" r="2.6" fill="#b0c4de"/>
<circle cx="640.1" cy="1074.9" r="2.6" fill="#b0c4de"/>
<circle cx="643.2" cy="1074.8" r="2.6" fill="#b0c4de"/>
<circle cx="648.6" cy="1075.1" r="2.6" fill="#b0c4de"/>
<circle cx="652.9" cy="1075.9" r="2.6" fill="#b0c4de"/>
<circle cx="656.6" cy="1075.4" r="2.6" fill="#b0c4de"/>
<circle cx="660.8" cy="1074.3" r="2.6" fill="#b0c4de"/>
<circle cx="666.8" cy="1075.7" r="2.6" fill="#b0c4de"/>
<circle cx="600.7" cy="1080.3" r="2.6" fill="#b0c4de"/>
<circle cx="604.2" cy="1080.5" r="2.6" fill="#b0c4de"/>
<circle cx="621.2" cy="1079.3" r="2.6" fill="#b0c4de"/>
<circle cx="626.7" cy="1079.9" r="2.6" fill="#b0c4de"/>
<circle cx="639.0" cy="1078.8" r="2.6" fill="#b0c4de"/>
<circle cx="644.8" cy="1079.5" r="2.6" fill="#b0c4de"/>
<circle cx="652.5" cy="1080.2" r="2.6" fill="#b0c4de"/>
<circle cx="657.7" cy="1079.8" r="2.6" fill="#b0c4de"/>
<circle cx="665.7" cy="1080.6" r="2.6" fill="#b0c4de"/>
<circle cx="599.6" cy="1085.0" r="2.6" fill="#b0c4de"/>
<circle cx="613.4" cy="1083.8" r="2.6" fill="#b0c4de"/>
<circle cx="617.2" cy="1083.5" r="2.6" fill="#b0c4de"/>
<circle cx="625.6" cy="1084.0" r="2.6" fill="#b0c4de"/>
<circle cx="648.4" cy="1083.0" r="2.6" fill="#b0c4de"/>
<circle cx="656.4" cy="1083.2" r="2.6" fill="#b0c4de"/>
<circle cx="661.6" cy="1083.4" r="2.6" fill="#b0c4de"/>
<circle cx="665.2" cy="1084.9" r="2.6" fill="#b0c4de"/>
<circle cx="608.2" cy="1089.2" r="2.6" fill="#b0c4de"/>
<circle cx="612.5" cy="1088.7" r="2.6" fill="#b0c4de"/>
<circle cx="631.3" cy="1089.3" r="2.6" fill="#b0c4de"/>
<circle cx="604.3" cy="1093.5" r="2.6" fill="#b0c4de"/>
<circle cx="626.8" cy="1093.5" r="2.6" fill="#b0c4de"/>
<circle cx="631.7" cy="1092.7" r="2.6" fill="#b0c4de"/>
<circle cx="639.2" cy="1092.4" r="2.6" fill="#b0c4de"/>
<circle cx="644.3" cy="1093.4" r="2.6" fill="#b0c4de"/>
<circle cx="656.8" cy="1092.6" r="2.6" fill="#b0c4de"/>
<circle cx="644.4" cy="1097.8" r="2.6" fill="#b0c4de"/>
<circle cx="266.6" cy="641.4" r="2.6" fill="#b0c4de"/>
<circle cx="206.5" cy="667.6" r="2.6" fill="#b0c4de"/>
<circle cx="190.7" cy="690.3" r="2.6" fill="#b0c4de"/>
<circle cx="261.0" cy="686.8" r="2.6" fill="#b0c4de"/>
<circle cx="351.8" cy="700.8" r="2.6" fill="#b0c4de"/>
<circle cx="173.3" cy="709.5" r="2.6" fill="#b0c4de"/>
<circle cx="229.2" cy="713.0" r="2.6" fill="#b0c4de"/>
<circle cx="225.7" cy="718.6" r="2.6" fill="#b0c4de"/>
<circle cx="173.3" cy="723.9" r="2.6" fill="#b0c4de"/>
<circle cx="189.0" cy="746.6" r="2.6" fill="#b0c4de"/>
<circle cx="174.7" cy="744.5" r="2.6" fill="#b0c4de"/>
<circle cx="227.8" cy="762.3" r="2.6" fill="#b0c4de"/>
<circle cx="243.1" cy="769.3" r="2.6" fill="#b0c4de"/>
<circle cx="210.0" cy="779.8" r="2.6" fill="#b0c4de"/>
<circle cx="234.4" cy="779.8" r="2.6" fill="#b0c4de"/>
<circle cx="332.3" cy="797.3" r="2.6" fill="#b0c4de"/>
<circle cx="316.0" cy="810.8" r="2.6" fill="#b0c4de"/>
<circle cx="353.9" cy="816.2" r="2.6" fill="#b0c4de"/>
<circle cx="363.0" cy="811.9" r="2.6" fill="#b0c4de"/>
<circle cx="385.0" cy="827.5" r="2.6" fill="#b0c4de"/>
<circle cx="422.2" cy="832.3" r="2.6" fill="#b0c4de"/>
<circle cx="539.6" cy="862.0" r="2.6" fill="#b0c4de"/>
<circle cx="472.3" cy="870.6" r="2.6" fill="#b0c4de"/>
<circle cx="448.6" cy="859.8" r="2.6" fill="#b0c4de"/>
<circle cx="407.7" cy="871.6" r="2.6" fill="#b0c4de"/>
<circle cx="504.6" cy="881.9" r="2.6" fill="#b0c4de"/>
<circle cx="530.5" cy="891.6" r="2.6" fill="#b0c4de"/>
<circle cx="623.0" cy="905.0" r="2.6" fill="#b0c4de"/>
<circle cx="540.0" cy="861.6" r="2.6" fill="#b0c4de"/>
<circle cx="504.9" cy="881.8" r="2.6" fill="#b0c4de"/>
<circle cx="508.5" cy="892.9" r="2.6" fill="#b0c4de"/>
<circle cx="530.3" cy="895.0" r="2.6" fill="#b0c4de"/>
<circle cx="530.3" cy="903.0" r="2.6" fill="#b0c4de"/>
<circle cx="530.3" cy="911.0" r="2.6" fill="#b0c4de"/>
<circle cx="485.0" cy="905.0" r="2.6" fill="#b0c4de"/>
<circle cx="490.0" cy="911.0" r="2.6" fill="#b0c4de"/>
<circle cx="494.0" cy="915.0" r="2.6" fill="#b0c4de"/>
<circle cx="512.0" cy="903.0" r="2.6" fill="#b0c4de"/>
<circle cx="517.0" cy="906.0" r="2.6" fill="#b0c4de"/>
<circle cx="520.0" cy="912.0" r="2.6" fill="#b0c4de"/>
<circle cx="512.0" cy="915.0" r="2.6" fill="#b0c4de"/>
<circle cx="541.4" cy="912.2" r="2.6" fill="#b0c4de"/>
<circle cx="543.0" cy="922.0" r="2.6" fill="#b0c4de"/>
<circle cx="545.0" cy="930.0" r="2.6" fill="#b0c4de"/>
<circle cx="552.5" cy="924.7" r="2.6" fill="#b0c4de"/>
<circle cx="568.0" cy="922.5" r="2.6" fill="#b0c4de"/>
<circle cx="534.8" cy="928.8" r="2.6" fill="#b0c4de"/>
<circle cx="534.8" cy="943.5" r="2.6" fill="#b0c4de"/>
<circle cx="558.0" cy="936.0" r="2.6" fill="#b0c4de"/>
<circle cx="561.0" cy="941.0" r="2.6" fill="#b0c4de"/>
<circle cx="573.5" cy="943.0" r="2.6" fill="#b0c4de"/>
<circle cx="573.5" cy="948.0" r="2.6" fill="#b0c4de"/>
<circle cx="583.7" cy="957.3" r="2.6" fill="#b0c4de"/>
<circle cx="621.6" cy="906.0" r="2.6" fill="#b0c4de"/>
<circle cx="621.6" cy="913.0" r="2.6" fill="#b0c4de"/>
<circle cx="621.6" cy="920.0" r="2.6" fill="#b0c4de"/>
<circle cx="621.6" cy="927.0" r="2.6" fill="#b0c4de"/>
<circle cx="639.8" cy="948.7" r="2.6" fill="#b0c4de"/>
<circle cx="611.4" cy="956.0" r="2.6" fill="#b0c4de"/>
<circle cx="613.0" cy="962.0" r="2.6" fill="#b0c4de"/>
<circle cx="622.0" cy="965.0" r="2.6" fill="#b0c4de"/>
<circle cx="627.0" cy="969.0" r="2.6" fill="#b0c4de"/>
<circle cx="554.1" cy="959.2" r="2.6" fill="#b0c4de"/>
<circle cx="556.0" cy="974.0" r="2.6" fill="#b0c4de"/>
<circle cx="560.0" cy="980.0" r="2.6" fill="#b0c4de"/>
<circle cx="571.3" cy="977.2" r="2.6" fill="#b0c4de"/>
<circle cx="628.0" cy="984.0" r="2.6" fill="#b0c4de"/>
<circle cx="657.0" cy="984.0" r="2.6" fill="#b0c4de"/>
<circle cx="509.9" cy="941.3" r="2.6" fill="#b0c4de"/>
<circle cx="511.8" cy="952.3" r="2.6" fill="#b0c4de"/>
<circle cx="496.6" cy="948.0" r="2.6" fill="#b0c4de"/>
<circle cx="496.6" cy="956.0" r="2.6" fill="#b0c4de"/>
<circle cx="496.6" cy="964.0" r="2.6" fill="#b0c4de"/>
<circle cx="234.6" cy="1041.7" r="2.6" fill="#b0c4de"/>
<circle cx="154.3" cy="928.5" r="2.6" fill="#b0c4de"/>
<circle cx="509.3" cy="1108.0" r="2.6" fill="#b0c4de"/>
<circle cx="509.3" cy="1114.0" r="2.6" fill="#b0c4de"/>
<circle cx="509.3" cy="1120.0" r="2.6" fill="#b0c4de"/>
<circle cx="509.3" cy="1126.0" r="2.6" fill="#b0c4de"/>
<circle cx="583.0" cy="1097.0" r="2.6" fill="#b0c4de"/>
<circle cx="588.0" cy="1104.0" r="2.6" fill="#b0c4de"/>
<circle cx="592.0" cy="1110.0" r="2.6" fill="#b0c4de"/>
<circle cx="600.0" cy="1118.0" r="2.6" fill="#b0c4de"/>
<circle cx="604.0" cy="1126.0" r="2.6" fill="#b0c4de"/>
<circle cx="606.0" cy="1134.0" r="2.6" fill="#b0c4de"/>
<circle cx="596.0" cy="1132.0" r="2.6" fill="#b0c4de"/>
<circle cx="624.0" cy="1120.0" r="2.6" fill="#b0c4de"/>
<circle cx="631.0" cy="1118.0" r="2.6" fill="#b0c4de"/>
<circle cx="651.0" cy="1104.0" r="2.6" fill="#b0c4de"/>
<circle cx="659.0" cy="1105.0" r="2.6" fill="#b0c4de"/>
<circle cx="538.4" cy="1099.7" r="2.6" fill="#b0c4de"/>
<circle cx="566.0" cy="1105.5" r="2.6" fill="#b0c4de"/>
<circle cx="600.0" cy="1100.0" r="2.6" fill="#b0c4de"/>
<circle cx="646.0" cy="1095.0" r="2.6" fill="#b0c4de"/>
<circle cx="664.0" cy="1100.0" r="2.6" fill="#b0c4de"/>
<circle cx="660.0" cy="1060.0" r="2.6" fill="#b0c4de"/>
<circle cx="663.0" cy="1045.0" r="2.6" fill="#b0c4de"/>
<circle cx="666.0" cy="1030.0" r="2.6" fill="#b0c4de"/>
<circle cx="655.0" cy="1025.0" r="2.6" fill="#b0c4de"/>
<circle cx="449.0" cy="1072.0" r="2.6" fill="#b0c4de"/>
<circle cx="452.0" cy="1078.0" r="2.6" fill="#b0c4de"/>
<circle cx="454.0" cy="1083.0" r="2.6" fill="#b0c4de"/>
<circle cx="472.0" cy="1072.0" r="2.6" fill="#b0c4de"/>
<circle cx="476.0" cy="1078.0" r="2.6" fill="#b0c4de"/>
<circle cx="474.0" cy="1084.0" r="2.6" fill="#b0c4de"/>
<circle cx="479.0" cy="1088.0" r="2.6" fill="#b0c4de"/>
<circle cx="488.0" cy="1070.0" r="2.6" fill="#b0c4de"/>
<circle cx="492.0" cy="1075.0" r="2.6" fill="#b0c4de"/>
<circle cx="502.0" cy="1078.0" r="2.6" fill="#b0c4de"/>
<circle cx="506.0" cy="1084.0" r="2.6" fill="#b0c4de"/>
<circle cx="510.0" cy="1090.0" r="2.6" fill="#b0c4de"/>
<circle cx="505.0" cy="1096.0" r="2.6" fill="#b0c4de"/>
<circle cx="512.0" cy="1099.0" r="2.6" fill="#b0c4de"/>
<circle cx="524.0" cy="1080.0" r="2.6" fill="#b0c4de"/>
<circle cx="530.0" cy="1084.0" r="2.6" fill="#b0c4de"/>
<circle cx="536.0" cy="1082.0" r="2.6" fill="#b0c4de"/>
<circle cx="541.0" cy="1087.0" r="2.6" fill="#b0c4de"/>
<circle cx="578.0" cy="1094.0" r="2.6" fill="#b0c4de"/>
<circle cx="583.0" cy="1100.0" r="2.6" fill="#b0c4de"/>
<circle cx="590.0" cy="1096.0" r="2.6" fill="#b0c4de"/>
<circle cx="598.0" cy="1106.0" r="2.6" fill="#b0c4de"/>
<circle cx="603.0" cy="1112.0" r="2.6" fill="#b0c4de"/>
<circle cx="154.5" cy="673.0" r="2.6" fill="#b0c4de"/>
<circle cx="154.5" cy="679.0" r="2.6" fill="#b0c4de"/>
<circle cx="154.8" cy="691.0" r="2.6" fill="#b0c4de"/>
<circle cx="163.5" cy="683.0" r="2.6" fill="#b0c4de"/>
<circle cx="156.0" cy="671.0" r="2.6" fill="#b0c4de"/>
<circle cx="163.0" cy="659.0" r="2.6" fill="#b0c4de"/>
<circle cx="154.0" cy="700.0" r="2.6" fill="#b0c4de"/>
<path d="M152.0 768.0L160.0 756.0L166.0 758.0L174.0 771.0L182.0 783.0L194.0 789.0L203.0 795.0L214.0 800.0L226.0 809.0L233.0 820.0L244.0 830.0L250.0 843.0L253.0 862.0L262.0 874.0L271.0 884.0L274.0 905.0L276.0 945.0L276.0 982.0L272.0 985.0L268.0 1009.0L261.0 1009.0L259.0 985.0L250.0 978.0L244.0 988.0L238.0 995.0L230.0 992.0L217.0 984.0L210.0 975.0L198.0 970.0L190.0 972.0L184.0 981.0L178.0 982.0L175.0 993.0L163.0 993.0L161.0 970.0L161.0 908.0L156.0 905.0L154.5 865.0L152.0 812.0Z" fill="#4682b4"/>
<rect x="153.1" y="627.9" width="6.6" height="6.1" rx="2.6" fill="#4682b4"/>
<rect x="156.2" y="632.0" width="5.6" height="16.8" rx="2.6" fill="#4682b4"/>
<rect x="153.1" y="649.0" width="5.7" height="6.0" rx="2.6" fill="#4682b4"/>
<rect x="154.4" y="654.5" width="7.0" height="11.0" rx="2.6" fill="#b0c4de"/>
<rect x="156.2" y="665.4" width="9.1" height="36.6" rx="2.6" fill="#4682b4"/>
<rect x="152.0" y="703.0" width="13.0" height="13.0" rx="2.6" fill="#4682b4"/>
<rect x="157.5" y="716.0" width="8.5" height="15.0" rx="2.6" fill="#4682b4"/>
<rect x="153.0" y="724.0" width="7.0" height="13.0" rx="2.6" fill="#b0c4de"/>
<rect x="152.0" y="735.0" width="14.0" height="37.0" rx="2.6" fill="#4682b4"/>
<rect x="198.0" y="757.0" width="5" height="38.0" rx="2.5" fill="#4682b4"/>
<rect x="236.8" y="812.0" width="5" height="25.0" rx="2.5" fill="#4682b4"/>
<rect x="248.5" y="826.0" width="5" height="27.0" rx="2.5" fill="#4682b4"/>
<rect x="258.8" y="850.0" width="5" height="20.0" rx="2.5" fill="#4682b4"/>
<rect x="285.0" y="847.0" width="5" height="26.0" rx="2.5" fill="#4682b4"/>
<rect x="295.0" y="862.0" width="8" height="44.0" rx="2.5" fill="#4682b4"/>
<rect x="303.8" y="820.0" width="5" height="26.0" rx="2.5" fill="#4682b4"/>
<rect x="305.9" y="876.0" width="5" height="19.0" rx="2.5" fill="#4682b4"/>
<rect x="275.0" y="873.0" width="8" height="28.0" rx="2.5" fill="#4682b4"/>
<rect x="267.2" y="874.0" width="5" height="27.0" rx="2.5" fill="#4682b4"/>
<rect x="317.5" y="891.0" width="5" height="23.0" rx="2.5" fill="#4682b4"/>
<rect x="276.5" y="916.0" width="19" height="73.0" rx="2.5" fill="#4682b4"/>
<rect x="297.5" y="918.0" width="5" height="40.0" rx="2.5" fill="#4682b4"/>
<rect x="305.9" y="924.0" width="5" height="44.0" rx="2.5" fill="#4682b4"/>
<rect x="323.0" y="955.0" width="8" height="23.0" rx="2.5" fill="#4682b4"/>
<rect x="337.0" y="954.0" width="10" height="58.0" rx="2.5" fill="#4682b4"/>
<rect x="339.0" y="1017.0" width="8" height="31.0" rx="2.5" fill="#4682b4"/>
<rect x="263.0" y="979.0" width="5" height="31.0" rx="2.5" fill="#4682b4"/>
<rect x="446.1" y="1024.0" width="5" height="9.0" rx="2.5" fill="#4682b4"/>
<rect x="523.7" y="1003.0" width="5" height="19.0" rx="2.5" fill="#4682b4"/>
<rect x="578.0" y="1036.0" width="5" height="15.0" rx="2.5" fill="#4682b4"/>
<rect x="318.5" y="918.0" width="5" height="18.0" rx="2.5" fill="#4682b4"/>
<rect x="177.5" y="975.0" width="5" height="15.0" rx="2.5" fill="#4682b4"/>
<rect x="184.5" y="970.0" width="5" height="14.0" rx="2.5" fill="#4682b4"/>
<rect x="192.5" y="966.0" width="5" height="13.0" rx="2.5" fill="#4682b4"/>
<rect x="200.5" y="968.0" width="5" height="17.0" rx="2.5" fill="#4682b4"/>
<rect x="212.5" y="975.0" width="5" height="16.0" rx="2.5" fill="#4682b4"/>
<rect x="219.5" y="978.0" width="5" height="16.0" rx="2.5" fill="#4682b4"/>
<rect x="230.5" y="985.0" width="5" height="15.0" rx="2.5" fill="#4682b4"/>
<rect x="243.5" y="980.0" width="5" height="16.0" rx="2.5" fill="#4682b4"/>
<rect x="252.5" y="976.0" width="5" height="14.0" rx="2.5" fill="#4682b4"/>
<circle cx="170" cy="749" r="2.6" fill="#4682b4"/>
<circle cx="174.5" cy="753" r="2.6" fill="#4682b4"/>
<circle cx="178" cy="747" r="2.6" fill="#4682b4"/>
<circle cx="186" cy="784" r="2.6" fill="#4682b4"/>
<circle cx="191" cy="790" r="2.6" fill="#4682b4"/>
<circle cx="165" cy="998" r="2.6" fill="#4682b4"/>
<circle cx="170" cy="1003" r="2.6" fill="#4682b4"/>
<circle cx="171" cy="1009" r="2.6" fill="#4682b4"/>
<circle cx="167" cy="996" r="2.6" fill="#4682b4"/>
<circle cx="313.2" cy="803.8" r="2.6" fill="#4682b4"/>
<circle cx="313.2" cy="822" r="2.6" fill="#4682b4"/>
<circle cx="309.5" cy="918.4" r="2.6" fill="#4682b4"/>
<circle cx="282.2" cy="913" r="2.6" fill="#4682b4"/>
<circle cx="361.8" cy="1024" r="2.6" fill="#4682b4"/>
<circle cx="463" cy="1029" r="2.6" fill="#4682b4"/>
<circle cx="526.2" cy="989" r="2.6" fill="#4682b4"/>
<path d="M339.3 840.7L343.3 844.7L339.3 848.7L335.3 844.7Z" fill="#4682b4"/>
<path d="M385 823.5L389 827.5L385 831.5L381 827.5Z" fill="#b0c4de"/>
<path d="M509.9 937.3L513.9 941.3L509.9 945.3L505.9 941.3Z" fill="#b0c4de"/>
<path d="M304.2 1007.6L308.2 1011.6L304.2 1015.6L300.2 1011.6Z" fill="#4682b4"/>
<rect x="99.0" y="625.9000000000001" width="571.2" height="569.3" fill="none" stroke="#606060" stroke-width="1.9"/>
<path d="M93.5 1195.20H99.0M93.5 1100.28H99.0M93.5 1005.37H99.0M93.5 910.45H99.0M93.5 815.53H99.0M93.5 720.62H99.0M93.5 625.70H99.0M153.30 1195.2V1200.2M256.68 1195.2V1200.2M360.06 1195.2V1200.2M463.44 1195.2V1200.2M566.82 1195.2V1200.2M670.20 1195.2V1200.2" stroke="#555" stroke-width="1.4" fill="none"/>
<text x="86.2" y="1200.4" text-anchor="end" class="sans" font-size="16.4" fill="#222">−20</text>
<text x="86.2" y="1105.5" text-anchor="end" class="sans" font-size="16.4" fill="#222">−15</text>
<text x="86.2" y="1010.6" text-anchor="end" class="sans" font-size="16.4" fill="#222">−10</text>
<text x="86.2" y="915.7" text-anchor="end" class="sans" font-size="16.4" fill="#222">−5</text>
<text x="86.2" y="820.7" text-anchor="end" class="sans" font-size="16.4" fill="#222">0</text>
<text x="86.2" y="725.8" text-anchor="end" class="sans" font-size="16.4" fill="#222">5</text>
<text x="86.2" y="630.9" text-anchor="end" class="sans" font-size="16.4" fill="#222">10</text>
<text x="153.3" y="1218" text-anchor="middle" class="sans" font-size="16" fill="#222">0</text>
<text x="256.7" y="1218" text-anchor="middle" class="sans" font-size="16" fill="#222">200</text>
<text x="360.1" y="1218" text-anchor="middle" class="sans" font-size="16" fill="#222">400</text>
<text x="463.4" y="1218" text-anchor="middle" class="sans" font-size="16" fill="#222">600</text>
<text x="566.8" y="1218" text-anchor="middle" class="sans" font-size="16" fill="#222">800</text>
<text x="670.2" y="1218" text-anchor="middle" class="sans" font-size="16" fill="#222">1000</text>
<text x="312" y="1237.3" class="sans" font-size="16" fill="#222" textLength="144.4" lengthAdjust="spacingAndGlyphs">Number of residues</text>
<text transform="translate(46.6,938.6) rotate(-90)" class="sans" font-size="16" fill="#222" textLength="53" lengthAdjust="spacingAndGlyphs">Z-score</text>
<rect x="571.3" y="634.3" width="91" height="49" rx="2.5" fill="#fff" fill-opacity="0.8" stroke="#ccc" stroke-width="1"/>
<rect x="572" y="639.3" width="36.8" height="14.6" fill="#b0c4de"/>
<rect x="572" y="662.3" width="36.8" height="14.5" fill="#4682b4"/>
<text x="616.8" y="651.6" class="sans" font-size="15.5" fill="#222" textLength="35.8" lengthAdjust="spacingAndGlyphs">X-ray</text>
<text x="618.8" y="673.5" class="sans" font-size="15.5" fill="#222" textLength="30.9" lengthAdjust="spacingAndGlyphs">NMR</text>
<circle cx="171.3" cy="876.4" r="5.3" fill="#000"/>
</svg>
</body></html>
